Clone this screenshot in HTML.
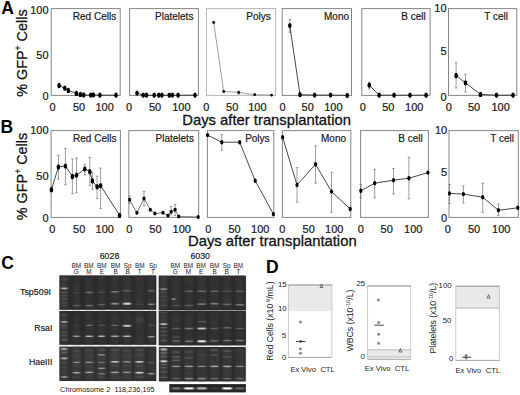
<!DOCTYPE html>
<html><head><meta charset="utf-8"><style>
html,body{margin:0;padding:0;background:#fff;width:520px;height:395px;overflow:hidden;}
svg{display:block;font-family:"Liberation Sans", sans-serif;}
</style></head><body>
<svg width="520" height="395" viewBox="0 0 520 395">
<defs><filter id="bl" x="-20%" y="-100%" width="140%" height="300%"><feGaussianBlur stdDeviation="1.1 0.7"/></filter><filter id="bl3" x="-30%" y="-100%" width="160%" height="300%"><feGaussianBlur stdDeviation="0.9"/></filter><filter id="bl2" x="-30%" y="-10%" width="160%" height="120%"><feGaussianBlur stdDeviation="1.2"/></filter></defs>
<rect width="520" height="395" fill="#fff"/>
<text x="1.2" y="14.2" font-size="17.5" text-anchor="start" font-weight="bold" fill="#000"  >A</text>
<text x="0.4" y="133.0" font-size="17.5" text-anchor="start" font-weight="bold" fill="#000"  >B</text>
<text x="1.2" y="268.8" font-size="17.5" text-anchor="start" font-weight="bold" fill="#000"  >C</text>
<text x="266.0" y="272.8" font-size="17.5" text-anchor="start" font-weight="bold" fill="#000"  >D</text>
<text transform="translate(26.5,53.1) rotate(-90)" font-size="14.4" text-anchor="middle" fill="#111" stroke="#111" stroke-width="0.25">% GFP<tspan font-size="8.64" dy="-5.472">+</tspan><tspan dy="5.472"> Cells</tspan></text>
<text transform="translate(26.9,176.5) rotate(-90)" font-size="14.4" text-anchor="middle" fill="#111" stroke="#111" stroke-width="0.25">% GFP<tspan font-size="8.64" dy="-5.472">+</tspan><tspan dy="5.472"> Cells</tspan></text>
<rect x="51.2" y="8.6" width="69.0" height="86.80000000000001" fill="none" stroke="#858585" stroke-width="1"/>
<text x="116.2" y="20.2" font-size="10" text-anchor="end" font-weight="normal" fill="#1a1a1a" stroke="#1a1a1a" stroke-width="0.2" >Red Cells</text>
<polyline points="59.1,85.5 64.8,88.2 68.3,90.4 76.4,93.4 80.4,94.4 83.7,95.0 90.7,95.2 93.4,94.9 99.9,95.2 116,95.2" fill="none" stroke="#333" stroke-width="0.9"/>
<ellipse cx="59.1" cy="85.5" rx="1.8" ry="2.7" fill="#000"/>
<ellipse cx="64.8" cy="88.2" rx="1.8" ry="2.7" fill="#000"/>
<ellipse cx="68.3" cy="90.4" rx="1.8" ry="2.7" fill="#000"/>
<ellipse cx="76.4" cy="93.4" rx="1.8" ry="2.7" fill="#000"/>
<ellipse cx="80.4" cy="94.4" rx="1.8" ry="2.7" fill="#000"/>
<ellipse cx="83.7" cy="95.0" rx="1.8" ry="2.7" fill="#000"/>
<ellipse cx="90.7" cy="95.2" rx="1.8" ry="2.7" fill="#000"/>
<ellipse cx="93.4" cy="94.9" rx="1.8" ry="2.7" fill="#000"/>
<ellipse cx="99.9" cy="95.2" rx="1.8" ry="2.7" fill="#000"/>
<ellipse cx="116" cy="95.2" rx="1.8" ry="2.7" fill="#000"/>
<rect x="129.6" y="8.6" width="68.80000000000001" height="86.80000000000001" fill="none" stroke="#858585" stroke-width="1"/>
<text x="193.4" y="20.2" font-size="10" text-anchor="end" font-weight="normal" fill="#1a1a1a" stroke="#1a1a1a" stroke-width="0.2" >Platelets</text>
<polyline points="137,93.1 143.2,95.2 146.5,95.2 154.2,95.2 158.8,95.2 161.9,95.2 169.3,95.2 172.4,95.2 178.1,95.2 195,95.2" fill="none" stroke="#333" stroke-width="0.9"/>
<ellipse cx="137" cy="93.1" rx="1.8" ry="2.7" fill="#000"/>
<ellipse cx="143.2" cy="95.2" rx="1.8" ry="2.7" fill="#000"/>
<ellipse cx="146.5" cy="95.2" rx="1.8" ry="2.7" fill="#000"/>
<ellipse cx="154.2" cy="95.2" rx="1.8" ry="2.7" fill="#000"/>
<ellipse cx="158.8" cy="95.2" rx="1.8" ry="2.7" fill="#000"/>
<ellipse cx="161.9" cy="95.2" rx="1.8" ry="2.7" fill="#000"/>
<ellipse cx="169.3" cy="95.2" rx="1.8" ry="2.7" fill="#000"/>
<ellipse cx="172.4" cy="95.2" rx="1.8" ry="2.7" fill="#000"/>
<ellipse cx="178.1" cy="95.2" rx="1.8" ry="2.7" fill="#000"/>
<ellipse cx="195" cy="95.2" rx="1.8" ry="2.7" fill="#000"/>
<rect x="206.4" y="8.6" width="69.20000000000002" height="86.80000000000001" fill="none" stroke="#b5b5b5" stroke-width="1"/>
<text x="270.7" y="20.2" font-size="10" text-anchor="end" font-weight="normal" fill="#1a1a1a" stroke="#1a1a1a" stroke-width="0.2" >Polys</text>
<line x1="238.7" y1="91" x2="238.7" y2="94" stroke="#757575" stroke-width="0.7" />
<line x1="237.39999999999998" y1="91" x2="240.0" y2="91" stroke="#757575" stroke-width="0.7" />
<line x1="237.39999999999998" y1="94" x2="240.0" y2="94" stroke="#757575" stroke-width="0.7" />
<polyline points="213.7,22.5 223.7,91.5 238.7,92.5 254.7,94.7 271.5,95.2" fill="none" stroke="#777" stroke-width="0.7"/>
<ellipse cx="213.7" cy="22.5" rx="1.4" ry="1.4" fill="#000"/>
<ellipse cx="223.7" cy="91.5" rx="1.4" ry="1.4" fill="#000"/>
<ellipse cx="238.7" cy="92.5" rx="1.4" ry="1.4" fill="#000"/>
<ellipse cx="254.7" cy="94.7" rx="1.4" ry="1.4" fill="#000"/>
<ellipse cx="271.5" cy="95.2" rx="1.4" ry="1.4" fill="#000"/>
<rect x="282.2" y="8.6" width="69.30000000000001" height="86.80000000000001" fill="none" stroke="#858585" stroke-width="1"/>
<text x="349" y="20.2" font-size="10" text-anchor="end" font-weight="normal" fill="#1a1a1a" stroke="#1a1a1a" stroke-width="0.2" >Mono</text>
<line x1="289.8" y1="19.6" x2="289.8" y2="32.3" stroke="#757575" stroke-width="0.7" />
<line x1="288.5" y1="19.6" x2="291.1" y2="19.6" stroke="#757575" stroke-width="0.7" />
<line x1="288.5" y1="32.3" x2="291.1" y2="32.3" stroke="#757575" stroke-width="0.7" />
<polyline points="289.8,25.5 300,94.7 314.6,95.1 330.6,95.1 347.2,95.4" fill="none" stroke="#333" stroke-width="0.9"/>
<ellipse cx="289.8" cy="25.5" rx="1.8" ry="2.6" fill="#000"/>
<ellipse cx="300" cy="94.7" rx="1.8" ry="2.6" fill="#000"/>
<ellipse cx="314.6" cy="95.1" rx="1.8" ry="2.6" fill="#000"/>
<ellipse cx="330.6" cy="95.1" rx="1.8" ry="2.6" fill="#000"/>
<ellipse cx="347.2" cy="95.4" rx="1.8" ry="2.6" fill="#000"/>
<rect x="361.8" y="8.6" width="68.30000000000001" height="86.80000000000001" fill="none" stroke="#858585" stroke-width="1"/>
<text x="425.8" y="20.2" font-size="10" text-anchor="end" font-weight="normal" fill="#1a1a1a" stroke="#1a1a1a" stroke-width="0.2" >B cell</text>
<line x1="369.3" y1="82" x2="369.3" y2="89" stroke="#757575" stroke-width="0.7" />
<line x1="368.0" y1="82" x2="370.6" y2="82" stroke="#757575" stroke-width="0.7" />
<line x1="368.0" y1="89" x2="370.6" y2="89" stroke="#757575" stroke-width="0.7" />
<polyline points="369.3,85.3 379.2,95.2 394.1,95.2 410,95.2 426.1,95.2" fill="none" stroke="#333" stroke-width="0.9"/>
<ellipse cx="369.3" cy="85.3" rx="1.8" ry="2.7" fill="#000"/>
<ellipse cx="379.2" cy="95.2" rx="1.8" ry="2.7" fill="#000"/>
<ellipse cx="394.1" cy="95.2" rx="1.8" ry="2.7" fill="#000"/>
<ellipse cx="410" cy="95.2" rx="1.8" ry="2.7" fill="#000"/>
<ellipse cx="426.1" cy="95.2" rx="1.8" ry="2.7" fill="#000"/>
<rect x="448.5" y="8.6" width="68.29999999999995" height="86.80000000000001" fill="none" stroke="#858585" stroke-width="1"/>
<text x="508" y="20.2" font-size="10" text-anchor="end" font-weight="normal" fill="#1a1a1a" stroke="#1a1a1a" stroke-width="0.2" >T cell</text>
<line x1="456.1" y1="62.7" x2="456.1" y2="87.9" stroke="#757575" stroke-width="0.7" />
<line x1="454.8" y1="62.7" x2="457.40000000000003" y2="62.7" stroke="#757575" stroke-width="0.7" />
<line x1="454.8" y1="87.9" x2="457.40000000000003" y2="87.9" stroke="#757575" stroke-width="0.7" />
<line x1="465.5" y1="74.2" x2="465.5" y2="92" stroke="#757575" stroke-width="0.7" />
<line x1="464.2" y1="74.2" x2="466.8" y2="74.2" stroke="#757575" stroke-width="0.7" />
<line x1="464.2" y1="92" x2="466.8" y2="92" stroke="#757575" stroke-width="0.7" />
<polyline points="456.1,75.5 465.5,82.9 480.5,94.4 496.5,95.2 513,95.2" fill="none" stroke="#333" stroke-width="0.9"/>
<ellipse cx="456.1" cy="75.5" rx="1.8" ry="2.7" fill="#000"/>
<ellipse cx="465.5" cy="82.9" rx="1.8" ry="2.7" fill="#000"/>
<ellipse cx="480.5" cy="94.4" rx="1.8" ry="2.7" fill="#000"/>
<ellipse cx="496.5" cy="95.2" rx="1.8" ry="2.7" fill="#000"/>
<ellipse cx="513" cy="95.2" rx="1.8" ry="2.7" fill="#000"/>
<text x="52.6" y="110.8" font-size="11" text-anchor="middle" font-weight="normal" fill="#1a1a1a" stroke="#1a1a1a" stroke-width="0.22" >0</text>
<text x="79.0" y="110.8" font-size="11" text-anchor="middle" font-weight="normal" fill="#1a1a1a" stroke="#1a1a1a" stroke-width="0.22" >50</text>
<text x="104.6" y="110.8" font-size="11" text-anchor="middle" font-weight="normal" fill="#1a1a1a" stroke="#1a1a1a" stroke-width="0.22" >100</text>
<text x="129.1" y="110.8" font-size="11" text-anchor="middle" font-weight="normal" fill="#1a1a1a" stroke="#1a1a1a" stroke-width="0.22" >0</text>
<text x="155.0" y="110.8" font-size="11" text-anchor="middle" font-weight="normal" fill="#1a1a1a" stroke="#1a1a1a" stroke-width="0.22" >50</text>
<text x="181.4" y="110.8" font-size="11" text-anchor="middle" font-weight="normal" fill="#1a1a1a" stroke="#1a1a1a" stroke-width="0.22" >100</text>
<text x="206.2" y="110.8" font-size="11" text-anchor="middle" font-weight="normal" fill="#1a1a1a" stroke="#1a1a1a" stroke-width="0.22" >0</text>
<text x="232.2" y="110.8" font-size="11" text-anchor="middle" font-weight="normal" fill="#1a1a1a" stroke="#1a1a1a" stroke-width="0.22" >50</text>
<text x="257.4" y="110.8" font-size="11" text-anchor="middle" font-weight="normal" fill="#1a1a1a" stroke="#1a1a1a" stroke-width="0.22" >100</text>
<text x="282.5" y="110.8" font-size="11" text-anchor="middle" font-weight="normal" fill="#1a1a1a" stroke="#1a1a1a" stroke-width="0.22" >0</text>
<text x="307.7" y="110.8" font-size="11" text-anchor="middle" font-weight="normal" fill="#1a1a1a" stroke="#1a1a1a" stroke-width="0.22" >50</text>
<text x="333.4" y="110.8" font-size="11" text-anchor="middle" font-weight="normal" fill="#1a1a1a" stroke="#1a1a1a" stroke-width="0.22" >100</text>
<text x="362.9" y="110.8" font-size="11" text-anchor="middle" font-weight="normal" fill="#1a1a1a" stroke="#1a1a1a" stroke-width="0.22" >0</text>
<text x="388.3" y="110.8" font-size="11" text-anchor="middle" font-weight="normal" fill="#1a1a1a" stroke="#1a1a1a" stroke-width="0.22" >50</text>
<text x="414.3" y="110.8" font-size="11" text-anchor="middle" font-weight="normal" fill="#1a1a1a" stroke="#1a1a1a" stroke-width="0.22" >100</text>
<text x="448.7" y="110.8" font-size="11" text-anchor="middle" font-weight="normal" fill="#1a1a1a" stroke="#1a1a1a" stroke-width="0.22" >0</text>
<text x="474.0" y="110.8" font-size="11" text-anchor="middle" font-weight="normal" fill="#1a1a1a" stroke="#1a1a1a" stroke-width="0.22" >50</text>
<text x="500.6" y="110.8" font-size="11" text-anchor="middle" font-weight="normal" fill="#1a1a1a" stroke="#1a1a1a" stroke-width="0.22" >100</text>
<text x="48.6" y="14.350000000000001" font-size="11" text-anchor="end" font-weight="normal" fill="#1a1a1a" stroke="#1a1a1a" stroke-width="0.22" >100</text>
<text x="48.6" y="58.95" font-size="11" text-anchor="end" font-weight="normal" fill="#1a1a1a" stroke="#1a1a1a" stroke-width="0.22" >50</text>
<text x="48.6" y="100.45" font-size="11" text-anchor="end" font-weight="normal" fill="#1a1a1a" stroke="#1a1a1a" stroke-width="0.22" >0</text>
<text x="446.6" y="12.350000000000001" font-size="11" text-anchor="end" font-weight="normal" fill="#1a1a1a" stroke="#1a1a1a" stroke-width="0.22" >10</text>
<text x="446.6" y="55.150000000000006" font-size="11" text-anchor="end" font-weight="normal" fill="#1a1a1a" stroke="#1a1a1a" stroke-width="0.22" >5</text>
<text x="446.6" y="100.95" font-size="11" text-anchor="end" font-weight="normal" fill="#1a1a1a" stroke="#1a1a1a" stroke-width="0.22" >0</text>
<text x="182.3" y="125.2" font-size="14.8" text-anchor="start" font-weight="normal" fill="#111" stroke="#111" stroke-width="0.296" >Days after transplantation</text>
<rect x="51.1" y="130.6" width="69.30000000000001" height="86.80000000000001" fill="none" stroke="#858585" stroke-width="1"/>
<text x="116.4" y="142.2" font-size="10" text-anchor="end" font-weight="normal" fill="#1a1a1a" stroke="#1a1a1a" stroke-width="0.2" >Red Cells</text>
<line x1="58.4" y1="155.2" x2="58.4" y2="179.2" stroke="#757575" stroke-width="0.7" />
<line x1="57.1" y1="155.2" x2="59.699999999999996" y2="155.2" stroke="#757575" stroke-width="0.7" />
<line x1="57.1" y1="179.2" x2="59.699999999999996" y2="179.2" stroke="#757575" stroke-width="0.7" />
<line x1="65.4" y1="148.4" x2="65.4" y2="184.8" stroke="#757575" stroke-width="0.7" />
<line x1="64.10000000000001" y1="148.4" x2="66.7" y2="148.4" stroke="#757575" stroke-width="0.7" />
<line x1="64.10000000000001" y1="184.8" x2="66.7" y2="184.8" stroke="#757575" stroke-width="0.7" />
<line x1="72.4" y1="159" x2="72.4" y2="193.5" stroke="#757575" stroke-width="0.7" />
<line x1="71.10000000000001" y1="159" x2="73.7" y2="159" stroke="#757575" stroke-width="0.7" />
<line x1="71.10000000000001" y1="193.5" x2="73.7" y2="193.5" stroke="#757575" stroke-width="0.7" />
<line x1="76.5" y1="157.9" x2="76.5" y2="192.9" stroke="#757575" stroke-width="0.7" />
<line x1="75.2" y1="157.9" x2="77.8" y2="157.9" stroke="#757575" stroke-width="0.7" />
<line x1="75.2" y1="192.9" x2="77.8" y2="192.9" stroke="#757575" stroke-width="0.7" />
<line x1="84.8" y1="164.3" x2="84.8" y2="175" stroke="#757575" stroke-width="0.7" />
<line x1="83.5" y1="164.3" x2="86.1" y2="164.3" stroke="#757575" stroke-width="0.7" />
<line x1="83.5" y1="175" x2="86.1" y2="175" stroke="#757575" stroke-width="0.7" />
<line x1="89.8" y1="157.5" x2="89.8" y2="185.3" stroke="#757575" stroke-width="0.7" />
<line x1="88.5" y1="157.5" x2="91.1" y2="157.5" stroke="#757575" stroke-width="0.7" />
<line x1="88.5" y1="185.3" x2="91.1" y2="185.3" stroke="#757575" stroke-width="0.7" />
<line x1="92.4" y1="172.7" x2="92.4" y2="189.4" stroke="#757575" stroke-width="0.7" />
<line x1="91.10000000000001" y1="172.7" x2="93.7" y2="172.7" stroke="#757575" stroke-width="0.7" />
<line x1="91.10000000000001" y1="189.4" x2="93.7" y2="189.4" stroke="#757575" stroke-width="0.7" />
<line x1="97.1" y1="176.2" x2="97.1" y2="198.5" stroke="#757575" stroke-width="0.7" />
<line x1="95.8" y1="176.2" x2="98.39999999999999" y2="176.2" stroke="#757575" stroke-width="0.7" />
<line x1="95.8" y1="198.5" x2="98.39999999999999" y2="198.5" stroke="#757575" stroke-width="0.7" />
<line x1="100.6" y1="168.1" x2="100.6" y2="208.5" stroke="#757575" stroke-width="0.7" />
<line x1="99.3" y1="168.1" x2="101.89999999999999" y2="168.1" stroke="#757575" stroke-width="0.7" />
<line x1="99.3" y1="208.5" x2="101.89999999999999" y2="208.5" stroke="#757575" stroke-width="0.7" />
<polyline points="51.4,189.8 58.4,167 65.4,166.1 72.4,176.5 76.5,175.3 84.8,168.9 89.8,171.6 92.4,181 97.1,186.8 100.6,185.6 119.6,215.4" fill="none" stroke="#333" stroke-width="0.9"/>
<ellipse cx="51.4" cy="189.8" rx="1.8" ry="2.7" fill="#000"/>
<ellipse cx="58.4" cy="167" rx="1.8" ry="2.7" fill="#000"/>
<ellipse cx="65.4" cy="166.1" rx="1.8" ry="2.7" fill="#000"/>
<ellipse cx="72.4" cy="176.5" rx="1.8" ry="2.7" fill="#000"/>
<ellipse cx="76.5" cy="175.3" rx="1.8" ry="2.7" fill="#000"/>
<ellipse cx="84.8" cy="168.9" rx="1.8" ry="2.7" fill="#000"/>
<ellipse cx="89.8" cy="171.6" rx="1.8" ry="2.7" fill="#000"/>
<ellipse cx="92.4" cy="181" rx="1.8" ry="2.7" fill="#000"/>
<ellipse cx="97.1" cy="186.8" rx="1.8" ry="2.7" fill="#000"/>
<ellipse cx="100.6" cy="185.6" rx="1.8" ry="2.7" fill="#000"/>
<ellipse cx="119.6" cy="215.4" rx="1.8" ry="2.7" fill="#000"/>
<rect x="128.8" y="130.6" width="69.89999999999998" height="86.80000000000001" fill="none" stroke="#858585" stroke-width="1"/>
<text x="193.9" y="142.2" font-size="10" text-anchor="end" font-weight="normal" fill="#1a1a1a" stroke="#1a1a1a" stroke-width="0.2" >Platelets</text>
<line x1="129.6" y1="195.9" x2="129.6" y2="203.5" stroke="#757575" stroke-width="0.7" />
<line x1="128.29999999999998" y1="195.9" x2="130.9" y2="195.9" stroke="#757575" stroke-width="0.7" />
<line x1="128.29999999999998" y1="203.5" x2="130.9" y2="203.5" stroke="#757575" stroke-width="0.7" />
<line x1="144" y1="191.3" x2="144" y2="206" stroke="#757575" stroke-width="0.7" />
<line x1="142.7" y1="191.3" x2="145.3" y2="191.3" stroke="#757575" stroke-width="0.7" />
<line x1="142.7" y1="206" x2="145.3" y2="206" stroke="#757575" stroke-width="0.7" />
<line x1="171.1" y1="206.5" x2="171.1" y2="214.9" stroke="#757575" stroke-width="0.7" />
<line x1="169.79999999999998" y1="206.5" x2="172.4" y2="206.5" stroke="#757575" stroke-width="0.7" />
<line x1="169.79999999999998" y1="214.9" x2="172.4" y2="214.9" stroke="#757575" stroke-width="0.7" />
<line x1="175.1" y1="204.7" x2="175.1" y2="215.6" stroke="#757575" stroke-width="0.7" />
<line x1="173.79999999999998" y1="204.7" x2="176.4" y2="204.7" stroke="#757575" stroke-width="0.7" />
<line x1="173.79999999999998" y1="215.6" x2="176.4" y2="215.6" stroke="#757575" stroke-width="0.7" />
<polyline points="129.6,199.7 136.9,212.8 144,198.4 150.3,209.8 154.9,213.6 163,212.8 168,215.6 171.1,211.8 175.1,209.8 178.7,216.6 198.2,217.0" fill="none" stroke="#4a4a4a" stroke-width="0.75"/>
<ellipse cx="129.6" cy="199.7" rx="1.6" ry="2.0" fill="#000"/>
<ellipse cx="136.9" cy="212.8" rx="1.6" ry="2.0" fill="#000"/>
<ellipse cx="144" cy="198.4" rx="1.6" ry="2.0" fill="#000"/>
<ellipse cx="150.3" cy="209.8" rx="1.6" ry="2.0" fill="#000"/>
<ellipse cx="154.9" cy="213.6" rx="1.6" ry="2.0" fill="#000"/>
<ellipse cx="163" cy="212.8" rx="1.6" ry="2.0" fill="#000"/>
<ellipse cx="168" cy="215.6" rx="1.6" ry="2.0" fill="#000"/>
<ellipse cx="171.1" cy="211.8" rx="1.6" ry="2.0" fill="#000"/>
<ellipse cx="175.1" cy="209.8" rx="1.6" ry="2.0" fill="#000"/>
<ellipse cx="178.7" cy="216.6" rx="1.6" ry="2.0" fill="#000"/>
<ellipse cx="198.2" cy="217.0" rx="1.6" ry="2.0" fill="#000"/>
<rect x="207.4" y="130.6" width="66.4" height="86.80000000000001" fill="none" stroke="#858585" stroke-width="1"/>
<text x="269.6" y="142.2" font-size="10" text-anchor="end" font-weight="normal" fill="#1a1a1a" stroke="#1a1a1a" stroke-width="0.2" >Polys</text>
<line x1="221.8" y1="134.6" x2="221.8" y2="150.3" stroke="#757575" stroke-width="0.7" />
<line x1="220.5" y1="134.6" x2="223.10000000000002" y2="134.6" stroke="#757575" stroke-width="0.7" />
<line x1="220.5" y1="150.3" x2="223.10000000000002" y2="150.3" stroke="#757575" stroke-width="0.7" />
<polyline points="207.6,135.1 221.8,142.2 239.7,142.2 255.2,180.7 273.4,214.1" fill="none" stroke="#333" stroke-width="0.9"/>
<ellipse cx="207.6" cy="135.1" rx="1.6" ry="2.2" fill="#000"/>
<ellipse cx="221.8" cy="142.2" rx="1.6" ry="2.2" fill="#000"/>
<ellipse cx="239.7" cy="142.2" rx="1.6" ry="2.2" fill="#000"/>
<ellipse cx="255.2" cy="180.7" rx="1.6" ry="2.2" fill="#000"/>
<ellipse cx="273.4" cy="214.1" rx="1.6" ry="2.2" fill="#000"/>
<rect x="282.4" y="130.6" width="68.40000000000003" height="86.80000000000001" fill="none" stroke="#858585" stroke-width="1"/>
<text x="346" y="142.2" font-size="10" text-anchor="end" font-weight="normal" fill="#1a1a1a" stroke="#1a1a1a" stroke-width="0.2" >Mono</text>
<line x1="297" y1="167.5" x2="297" y2="202.2" stroke="#757575" stroke-width="0.7" />
<line x1="295.7" y1="167.5" x2="298.3" y2="167.5" stroke="#757575" stroke-width="0.7" />
<line x1="295.7" y1="202.2" x2="298.3" y2="202.2" stroke="#757575" stroke-width="0.7" />
<line x1="315.5" y1="145.8" x2="315.5" y2="183.2" stroke="#757575" stroke-width="0.7" />
<line x1="314.2" y1="145.8" x2="316.8" y2="145.8" stroke="#757575" stroke-width="0.7" />
<line x1="314.2" y1="183.2" x2="316.8" y2="183.2" stroke="#757575" stroke-width="0.7" />
<line x1="331.5" y1="172.3" x2="331.5" y2="212.3" stroke="#757575" stroke-width="0.7" />
<line x1="330.2" y1="172.3" x2="332.8" y2="172.3" stroke="#757575" stroke-width="0.7" />
<line x1="330.2" y1="212.3" x2="332.8" y2="212.3" stroke="#757575" stroke-width="0.7" />
<polyline points="282.6,137.2 297,185 315.5,164.2 331.5,191.6 350.2,209" fill="none" stroke="#333" stroke-width="0.9"/>
<ellipse cx="282.6" cy="137.2" rx="1.6" ry="2.2" fill="#000"/>
<ellipse cx="297" cy="185" rx="1.6" ry="2.2" fill="#000"/>
<ellipse cx="315.5" cy="164.2" rx="1.6" ry="2.2" fill="#000"/>
<ellipse cx="331.5" cy="191.6" rx="1.6" ry="2.2" fill="#000"/>
<ellipse cx="350.2" cy="209" rx="1.6" ry="2.2" fill="#000"/>
<rect x="360.6" y="130.6" width="67.79999999999995" height="86.80000000000001" fill="none" stroke="#858585" stroke-width="1"/>
<text x="422.8" y="142.2" font-size="10" text-anchor="end" font-weight="normal" fill="#1a1a1a" stroke="#1a1a1a" stroke-width="0.2" >B cell</text>
<line x1="360.8" y1="184.5" x2="360.8" y2="197.7" stroke="#757575" stroke-width="0.7" />
<line x1="359.5" y1="184.5" x2="362.1" y2="184.5" stroke="#757575" stroke-width="0.7" />
<line x1="359.5" y1="197.7" x2="362.1" y2="197.7" stroke="#757575" stroke-width="0.7" />
<line x1="374.7" y1="169.3" x2="374.7" y2="197.7" stroke="#757575" stroke-width="0.7" />
<line x1="373.4" y1="169.3" x2="376.0" y2="169.3" stroke="#757575" stroke-width="0.7" />
<line x1="373.4" y1="197.7" x2="376.0" y2="197.7" stroke="#757575" stroke-width="0.7" />
<line x1="393.5" y1="168.5" x2="393.5" y2="193.9" stroke="#757575" stroke-width="0.7" />
<line x1="392.2" y1="168.5" x2="394.8" y2="168.5" stroke="#757575" stroke-width="0.7" />
<line x1="392.2" y1="193.9" x2="394.8" y2="193.9" stroke="#757575" stroke-width="0.7" />
<line x1="408.9" y1="157.4" x2="408.9" y2="198.9" stroke="#757575" stroke-width="0.7" />
<line x1="407.59999999999997" y1="157.4" x2="410.2" y2="157.4" stroke="#757575" stroke-width="0.7" />
<line x1="407.59999999999997" y1="198.9" x2="410.2" y2="198.9" stroke="#757575" stroke-width="0.7" />
<polyline points="360.8,190.8 374.7,183.2 393.5,180.2 408.9,178.2 427.9,172.6" fill="none" stroke="#333" stroke-width="0.9"/>
<ellipse cx="360.8" cy="190.8" rx="1.6" ry="2.2" fill="#000"/>
<ellipse cx="374.7" cy="183.2" rx="1.6" ry="2.2" fill="#000"/>
<ellipse cx="393.5" cy="180.2" rx="1.6" ry="2.2" fill="#000"/>
<ellipse cx="408.9" cy="178.2" rx="1.6" ry="2.2" fill="#000"/>
<ellipse cx="427.9" cy="172.6" rx="1.6" ry="2.2" fill="#000"/>
<rect x="449" y="130.6" width="69.29999999999995" height="86.80000000000001" fill="none" stroke="#858585" stroke-width="1"/>
<text x="514" y="142.2" font-size="10" text-anchor="end" font-weight="normal" fill="#1a1a1a" stroke="#1a1a1a" stroke-width="0.2" >T cell</text>
<line x1="449.5" y1="184.5" x2="449.5" y2="203.5" stroke="#757575" stroke-width="0.7" />
<line x1="448.2" y1="184.5" x2="450.8" y2="184.5" stroke="#757575" stroke-width="0.7" />
<line x1="448.2" y1="203.5" x2="450.8" y2="203.5" stroke="#757575" stroke-width="0.7" />
<line x1="463.4" y1="185.8" x2="463.4" y2="203" stroke="#757575" stroke-width="0.7" />
<line x1="462.09999999999997" y1="185.8" x2="464.7" y2="185.8" stroke="#757575" stroke-width="0.7" />
<line x1="462.09999999999997" y1="203" x2="464.7" y2="203" stroke="#757575" stroke-width="0.7" />
<line x1="482.7" y1="183.2" x2="482.7" y2="212.3" stroke="#757575" stroke-width="0.7" />
<line x1="481.4" y1="183.2" x2="484.0" y2="183.2" stroke="#757575" stroke-width="0.7" />
<line x1="481.4" y1="212.3" x2="484.0" y2="212.3" stroke="#757575" stroke-width="0.7" />
<line x1="498.4" y1="204" x2="498.4" y2="215.6" stroke="#757575" stroke-width="0.7" />
<line x1="497.09999999999997" y1="204" x2="499.7" y2="204" stroke="#757575" stroke-width="0.7" />
<line x1="497.09999999999997" y1="215.6" x2="499.7" y2="215.6" stroke="#757575" stroke-width="0.7" />
<polyline points="449.5,193.4 463.4,194.1 482.7,197.2 498.4,210.3 517.8,207.8" fill="none" stroke="#333" stroke-width="0.9"/>
<ellipse cx="449.5" cy="193.4" rx="1.6" ry="2.2" fill="#000"/>
<ellipse cx="463.4" cy="194.1" rx="1.6" ry="2.2" fill="#000"/>
<ellipse cx="482.7" cy="197.2" rx="1.6" ry="2.2" fill="#000"/>
<ellipse cx="498.4" cy="210.3" rx="1.6" ry="2.2" fill="#000"/>
<ellipse cx="517.8" cy="207.8" rx="1.6" ry="2.2" fill="#000"/>
<text x="52.3" y="233.4" font-size="11" text-anchor="middle" font-weight="normal" fill="#1a1a1a" stroke="#1a1a1a" stroke-width="0.22" >0</text>
<text x="79.2" y="233.4" font-size="11" text-anchor="middle" font-weight="normal" fill="#1a1a1a" stroke="#1a1a1a" stroke-width="0.22" >50</text>
<text x="104.8" y="233.4" font-size="11" text-anchor="middle" font-weight="normal" fill="#1a1a1a" stroke="#1a1a1a" stroke-width="0.22" >100</text>
<text x="129.2" y="233.4" font-size="11" text-anchor="middle" font-weight="normal" fill="#1a1a1a" stroke="#1a1a1a" stroke-width="0.22" >0</text>
<text x="155.4" y="233.4" font-size="11" text-anchor="middle" font-weight="normal" fill="#1a1a1a" stroke="#1a1a1a" stroke-width="0.22" >50</text>
<text x="181.8" y="233.4" font-size="11" text-anchor="middle" font-weight="normal" fill="#1a1a1a" stroke="#1a1a1a" stroke-width="0.22" >100</text>
<text x="208.3" y="233.4" font-size="11" text-anchor="middle" font-weight="normal" fill="#1a1a1a" stroke="#1a1a1a" stroke-width="0.22" >0</text>
<text x="234.6" y="233.4" font-size="11" text-anchor="middle" font-weight="normal" fill="#1a1a1a" stroke="#1a1a1a" stroke-width="0.22" >50</text>
<text x="260.2" y="233.4" font-size="11" text-anchor="middle" font-weight="normal" fill="#1a1a1a" stroke="#1a1a1a" stroke-width="0.22" >100</text>
<text x="282.3" y="233.4" font-size="11" text-anchor="middle" font-weight="normal" fill="#1a1a1a" stroke="#1a1a1a" stroke-width="0.22" >0</text>
<text x="308.7" y="233.4" font-size="11" text-anchor="middle" font-weight="normal" fill="#1a1a1a" stroke="#1a1a1a" stroke-width="0.22" >50</text>
<text x="334.3" y="233.4" font-size="11" text-anchor="middle" font-weight="normal" fill="#1a1a1a" stroke="#1a1a1a" stroke-width="0.22" >100</text>
<text x="360.7" y="233.4" font-size="11" text-anchor="middle" font-weight="normal" fill="#1a1a1a" stroke="#1a1a1a" stroke-width="0.22" >0</text>
<text x="386.7" y="233.4" font-size="11" text-anchor="middle" font-weight="normal" fill="#1a1a1a" stroke="#1a1a1a" stroke-width="0.22" >50</text>
<text x="413.3" y="233.4" font-size="11" text-anchor="middle" font-weight="normal" fill="#1a1a1a" stroke="#1a1a1a" stroke-width="0.22" >100</text>
<text x="447.7" y="233.4" font-size="11" text-anchor="middle" font-weight="normal" fill="#1a1a1a" stroke="#1a1a1a" stroke-width="0.22" >0</text>
<text x="474.0" y="233.4" font-size="11" text-anchor="middle" font-weight="normal" fill="#1a1a1a" stroke="#1a1a1a" stroke-width="0.22" >50</text>
<text x="501.3" y="233.4" font-size="11" text-anchor="middle" font-weight="normal" fill="#1a1a1a" stroke="#1a1a1a" stroke-width="0.22" >100</text>
<text x="48.6" y="134.35" font-size="11" text-anchor="end" font-weight="normal" fill="#1a1a1a" stroke="#1a1a1a" stroke-width="0.22" >100</text>
<text x="48.6" y="179.64999999999998" font-size="11" text-anchor="end" font-weight="normal" fill="#1a1a1a" stroke="#1a1a1a" stroke-width="0.22" >50</text>
<text x="48.6" y="221.75" font-size="11" text-anchor="end" font-weight="normal" fill="#1a1a1a" stroke="#1a1a1a" stroke-width="0.22" >0</text>
<text x="447.2" y="134.04999999999998" font-size="11" text-anchor="end" font-weight="normal" fill="#1a1a1a" stroke="#1a1a1a" stroke-width="0.22" >10</text>
<text x="447.2" y="175.75" font-size="11" text-anchor="end" font-weight="normal" fill="#1a1a1a" stroke="#1a1a1a" stroke-width="0.22" >5</text>
<text x="447.2" y="221.75" font-size="11" text-anchor="end" font-weight="normal" fill="#1a1a1a" stroke="#1a1a1a" stroke-width="0.22" >0</text>
<text x="188.0" y="245.6" font-size="14.8" text-anchor="start" font-weight="normal" fill="#111" stroke="#111" stroke-width="0.296" >Days after transplantation</text>
<text x="20.0" y="295.0" font-size="8.9" text-anchor="start" font-weight="normal" fill="#1a1a1a" stroke="#1a1a1a" stroke-width="0.178" >Tsp509I</text>
<text x="52.4" y="331.0" font-size="8.8" text-anchor="end" font-weight="normal" fill="#1a1a1a" stroke="#1a1a1a" stroke-width="0.176" >RsaI</text>
<text x="52.4" y="364.8" font-size="8.8" text-anchor="end" font-weight="normal" fill="#1a1a1a" stroke="#1a1a1a" stroke-width="0.176" >HaeIII</text>
<text x="109.5" y="258.8" font-size="8.8" text-anchor="middle" font-weight="normal" fill="#1a1a1a" stroke="#1a1a1a" stroke-width="0.176" >6028</text>
<text x="200.2" y="258.8" font-size="8.8" text-anchor="middle" font-weight="normal" fill="#1a1a1a" stroke="#1a1a1a" stroke-width="0.176" >6030</text>
<text x="76.2" y="268.0" font-size="6.4" text-anchor="middle" font-weight="normal" fill="#222"  >BM</text>
<text x="76.2" y="273.6" font-size="6.4" text-anchor="middle" font-weight="normal" fill="#222"  >G</text>
<text x="88.9" y="268.0" font-size="6.4" text-anchor="middle" font-weight="normal" fill="#222"  >BM</text>
<text x="88.9" y="273.6" font-size="6.4" text-anchor="middle" font-weight="normal" fill="#222"  >M</text>
<text x="101.9" y="268.0" font-size="6.4" text-anchor="middle" font-weight="normal" fill="#222"  >BM</text>
<text x="101.9" y="273.6" font-size="6.4" text-anchor="middle" font-weight="normal" fill="#222"  >E</text>
<text x="115.6" y="268.0" font-size="6.4" text-anchor="middle" font-weight="normal" fill="#222"  >BM</text>
<text x="115.6" y="273.6" font-size="6.4" text-anchor="middle" font-weight="normal" fill="#222"  >B</text>
<text x="127.7" y="268.0" font-size="6.4" text-anchor="middle" font-weight="normal" fill="#222"  >Sp</text>
<text x="127.7" y="273.6" font-size="6.4" text-anchor="middle" font-weight="normal" fill="#222"  >B</text>
<text x="139.8" y="268.0" font-size="6.4" text-anchor="middle" font-weight="normal" fill="#222"  >BM</text>
<text x="139.8" y="273.6" font-size="6.4" text-anchor="middle" font-weight="normal" fill="#222"  >T</text>
<text x="153" y="268.0" font-size="6.4" text-anchor="middle" font-weight="normal" fill="#222"  >Sp</text>
<text x="153" y="273.6" font-size="6.4" text-anchor="middle" font-weight="normal" fill="#222"  >T</text>
<text x="175.2" y="268.0" font-size="6.4" text-anchor="middle" font-weight="normal" fill="#222"  >BM</text>
<text x="175.2" y="273.6" font-size="6.4" text-anchor="middle" font-weight="normal" fill="#222"  >G</text>
<text x="188.3" y="268.0" font-size="6.4" text-anchor="middle" font-weight="normal" fill="#222"  >BM</text>
<text x="188.3" y="273.6" font-size="6.4" text-anchor="middle" font-weight="normal" fill="#222"  >M</text>
<text x="201.1" y="268.0" font-size="6.4" text-anchor="middle" font-weight="normal" fill="#222"  >BM</text>
<text x="201.1" y="273.6" font-size="6.4" text-anchor="middle" font-weight="normal" fill="#222"  >E</text>
<text x="214.6" y="268.0" font-size="6.4" text-anchor="middle" font-weight="normal" fill="#222"  >BM</text>
<text x="214.6" y="273.6" font-size="6.4" text-anchor="middle" font-weight="normal" fill="#222"  >B</text>
<text x="226.7" y="268.0" font-size="6.4" text-anchor="middle" font-weight="normal" fill="#222"  >Sp</text>
<text x="226.7" y="273.6" font-size="6.4" text-anchor="middle" font-weight="normal" fill="#222"  >B</text>
<text x="238.4" y="268.0" font-size="6.4" text-anchor="middle" font-weight="normal" fill="#222"  >BM</text>
<text x="238.4" y="273.6" font-size="6.4" text-anchor="middle" font-weight="normal" fill="#222"  >T</text>
<text x="60.1" y="392.3" font-size="7.35" text-anchor="start" font-weight="normal" fill="#1a1a1a"  >Chromosome 2&#160;&#160;118,236,195</text>
<rect x="59.4" y="275.4" width="96.79999999999998" height="34.400000000000034" fill="#292929" />
<rect x="60.7" y="276.4" width="7.0" height="32.400000000000034" fill="#3a3a3a" filter="url(#bl2)"/>
<rect x="61.2" y="278.52" width="6.0" height="0.96" fill="#4f4f4f" filter="url(#bl)"/>
<rect x="61.2" y="287.59999999999997" width="6.0" height="1.6" fill="#b8b8b8" filter="url(#bl)"/>
<rect x="61.2" y="291.91999999999996" width="6.0" height="0.96" fill="#656565" filter="url(#bl)"/>
<rect x="61.2" y="295.32" width="6.0" height="0.96" fill="#5a5a5a" filter="url(#bl)"/>
<rect x="61.2" y="298.21999999999997" width="6.0" height="0.96" fill="#5a5a5a" filter="url(#bl)"/>
<rect x="61.2" y="302.21999999999997" width="6.0" height="0.96" fill="#4f4f4f" filter="url(#bl)"/>
<rect x="61.2" y="305.21999999999997" width="6.0" height="0.96" fill="#4f4f4f" filter="url(#bl)"/>
<rect x="72.0" y="276.4" width="9.0" height="32.400000000000034" fill="#303030" filter="url(#bl2)"/>
<rect x="73.5" y="278.0476655296663" width="6.0" height="1.2" fill="#323232" filter="url(#bl3)"/>
<rect x="73.5" y="281.7321360189358" width="6.0" height="1.2" fill="#303030" filter="url(#bl3)"/>
<rect x="73.5" y="284.44944487893844" width="6.0" height="1.2" fill="#383838" filter="url(#bl3)"/>
<rect x="73.5" y="287.2318350047575" width="6.0" height="1.2" fill="#393939" filter="url(#bl3)"/>
<rect x="73.5" y="289.9058317790816" width="6.0" height="1.2" fill="#383838" filter="url(#bl3)"/>
<rect x="73.5" y="293.0499263215886" width="6.0" height="1.2" fill="#313131" filter="url(#bl3)"/>
<rect x="73.5" y="296.85086337257576" width="6.0" height="1.2" fill="#313131" filter="url(#bl3)"/>
<rect x="73.5" y="300.07285237295685" width="6.0" height="1.2" fill="#383838" filter="url(#bl3)"/>
<rect x="73.5" y="303.8464099403844" width="6.0" height="1.2" fill="#3d3d3d" filter="url(#bl3)"/>
<rect x="73.3" y="292.12" width="6.4" height="1.36" fill="#464646" filter="url(#bl)"/>
<rect x="73.3" y="304.85200000000003" width="6.4" height="1.4960000000000002" fill="#606060" filter="url(#bl)"/>
<rect x="84.5" y="276.4" width="9.5" height="32.400000000000034" fill="#303030" filter="url(#bl2)"/>
<rect x="86" y="279.29489940141497" width="6.5" height="1.2" fill="#3a3a3a" filter="url(#bl3)"/>
<rect x="86" y="283.67719906863175" width="6.5" height="1.2" fill="#303030" filter="url(#bl3)"/>
<rect x="86" y="287.90850791448423" width="6.5" height="1.2" fill="#363636" filter="url(#bl3)"/>
<rect x="86" y="290.55727585465354" width="6.5" height="1.2" fill="#333333" filter="url(#bl3)"/>
<rect x="86" y="293.19702389650683" width="6.5" height="1.2" fill="#3d3d3d" filter="url(#bl3)"/>
<rect x="86" y="296.09654834583165" width="6.5" height="1.2" fill="#363636" filter="url(#bl3)"/>
<rect x="86" y="299.02931359590394" width="6.5" height="1.2" fill="#313131" filter="url(#bl3)"/>
<rect x="86" y="303.24205466484415" width="6.5" height="1.2" fill="#383838" filter="url(#bl3)"/>
<rect x="85.8" y="291.71999999999997" width="6.9" height="1.36" fill="#727272" filter="url(#bl)"/>
<rect x="85.8" y="304.85200000000003" width="6.9" height="1.4960000000000002" fill="#727272" filter="url(#bl)"/>
<rect x="97.0" y="276.4" width="9.0" height="32.400000000000034" fill="#303030" filter="url(#bl2)"/>
<rect x="98.5" y="277.7614527598478" width="6.0" height="1.2" fill="#393939" filter="url(#bl3)"/>
<rect x="98.5" y="281.9750659340832" width="6.0" height="1.2" fill="#333333" filter="url(#bl3)"/>
<rect x="98.5" y="285.5922585622604" width="6.0" height="1.2" fill="#383838" filter="url(#bl3)"/>
<rect x="98.5" y="290.22859085949887" width="6.0" height="1.2" fill="#393939" filter="url(#bl3)"/>
<rect x="98.5" y="292.90739436939754" width="6.0" height="1.2" fill="#333333" filter="url(#bl3)"/>
<rect x="98.5" y="296.896637854738" width="6.0" height="1.2" fill="#383838" filter="url(#bl3)"/>
<rect x="98.5" y="300.6794147717462" width="6.0" height="1.2" fill="#353535" filter="url(#bl3)"/>
<rect x="98.5" y="304.57622036926523" width="6.0" height="1.2" fill="#3e3e3e" filter="url(#bl3)"/>
<rect x="98.3" y="291.71999999999997" width="6.4" height="1.36" fill="#505050" filter="url(#bl)"/>
<rect x="98.3" y="303.952" width="6.4" height="1.4960000000000002" fill="#636363" filter="url(#bl)"/>
<rect x="110.0" y="276.4" width="10.0" height="32.400000000000034" fill="#303030" filter="url(#bl2)"/>
<rect x="111.5" y="277.99953399372737" width="7.0" height="1.2" fill="#3c3c3c" filter="url(#bl3)"/>
<rect x="111.5" y="281.0388342424768" width="7.0" height="1.2" fill="#3c3c3c" filter="url(#bl3)"/>
<rect x="111.5" y="284.2711237746433" width="7.0" height="1.2" fill="#393939" filter="url(#bl3)"/>
<rect x="111.5" y="287.6718711302802" width="7.0" height="1.2" fill="#373737" filter="url(#bl3)"/>
<rect x="111.5" y="292.79728361700046" width="7.0" height="1.2" fill="#3b3b3b" filter="url(#bl3)"/>
<rect x="111.5" y="296.64378618828385" width="7.0" height="1.2" fill="#393939" filter="url(#bl3)"/>
<rect x="111.5" y="302.0843107307616" width="7.0" height="1.2" fill="#313131" filter="url(#bl3)"/>
<rect x="111.5" y="306.1201092227043" width="7.0" height="1.2" fill="#323232" filter="url(#bl3)"/>
<rect x="111.3" y="291.188" width="7.4" height="1.2240000000000002" fill="#8d8d8d" filter="url(#bl)"/>
<rect x="111.3" y="302.816" width="7.4" height="1.7680000000000002" fill="#949494" filter="url(#bl)"/>
<rect x="122.0" y="276.4" width="10.0" height="32.400000000000034" fill="#303030" filter="url(#bl2)"/>
<rect x="123.5" y="277.703969069321" width="7.0" height="1.2" fill="#373737" filter="url(#bl3)"/>
<rect x="123.5" y="281.4690641327512" width="7.0" height="1.2" fill="#3a3a3a" filter="url(#bl3)"/>
<rect x="123.5" y="284.20192557929363" width="7.0" height="1.2" fill="#383838" filter="url(#bl3)"/>
<rect x="123.5" y="288.42100340012576" width="7.0" height="1.2" fill="#3e3e3e" filter="url(#bl3)"/>
<rect x="123.5" y="293.37606342722773" width="7.0" height="1.2" fill="#353535" filter="url(#bl3)"/>
<rect x="123.5" y="297.9619495260487" width="7.0" height="1.2" fill="#393939" filter="url(#bl3)"/>
<rect x="123.5" y="301.9519739119457" width="7.0" height="1.2" fill="#3c3c3c" filter="url(#bl3)"/>
<rect x="123.5" y="305.82058990584994" width="7.0" height="1.2" fill="#3d3d3d" filter="url(#bl3)"/>
<rect x="123.3" y="289.98400000000004" width="7.4" height="1.6320000000000001" fill="#606060" filter="url(#bl)"/>
<rect x="123.3" y="302.68" width="7.4" height="2.04" fill="#dcdcdc" filter="url(#bl)"/>
<rect x="134.5" y="276.4" width="10" height="32.400000000000034" fill="#303030" filter="url(#bl2)"/>
<rect x="136" y="277.9398785542562" width="7" height="1.2" fill="#3b3b3b" filter="url(#bl3)"/>
<rect x="136" y="282.43233517068023" width="7" height="1.2" fill="#303030" filter="url(#bl3)"/>
<rect x="136" y="287.1258131746029" width="7" height="1.2" fill="#343434" filter="url(#bl3)"/>
<rect x="136" y="291.56719973818593" width="7" height="1.2" fill="#3a3a3a" filter="url(#bl3)"/>
<rect x="136" y="296.5329740980151" width="7" height="1.2" fill="#343434" filter="url(#bl3)"/>
<rect x="136" y="301.18285748120996" width="7" height="1.2" fill="#3e3e3e" filter="url(#bl3)"/>
<rect x="136" y="305.6888156288625" width="7" height="1.2" fill="#303030" filter="url(#bl3)"/>
<rect x="135.8" y="303.62" width="7.4" height="1.36" fill="#464646" filter="url(#bl)"/>
<rect x="147.0" y="276.4" width="8.5" height="32.400000000000034" fill="#303030" filter="url(#bl2)"/>
<rect x="148.5" y="278.1109282190807" width="5.5" height="1.2" fill="#393939" filter="url(#bl3)"/>
<rect x="148.5" y="280.9622156025259" width="5.5" height="1.2" fill="#303030" filter="url(#bl3)"/>
<rect x="148.5" y="284.1168389269849" width="5.5" height="1.2" fill="#343434" filter="url(#bl3)"/>
<rect x="148.5" y="287.0048595930409" width="5.5" height="1.2" fill="#333333" filter="url(#bl3)"/>
<rect x="148.5" y="290.69855262867964" width="5.5" height="1.2" fill="#3e3e3e" filter="url(#bl3)"/>
<rect x="148.5" y="295.8128185510585" width="5.5" height="1.2" fill="#313131" filter="url(#bl3)"/>
<rect x="148.5" y="298.8119173984743" width="5.5" height="1.2" fill="#363636" filter="url(#bl3)"/>
<rect x="148.5" y="302.9602371259064" width="5.5" height="1.2" fill="#3e3e3e" filter="url(#bl3)"/>
<rect x="148.5" y="305.8710155549515" width="5.5" height="1.2" fill="#363636" filter="url(#bl3)"/>
<rect x="148.3" y="290.12" width="5.9" height="1.36" fill="#6f6f6f" filter="url(#bl)"/>
<rect x="148.3" y="303.552" width="5.9" height="1.4960000000000002" fill="#8d8d8d" filter="url(#bl)"/>
<rect x="59.4" y="311.0" width="96.79999999999998" height="33.80000000000001" fill="#292929" />
<rect x="60.7" y="312.0" width="7.0" height="31.80000000000001" fill="#3a3a3a" filter="url(#bl2)"/>
<rect x="61.2" y="314.41999999999996" width="6.0" height="0.96" fill="#4f4f4f" filter="url(#bl)"/>
<rect x="61.2" y="321.09999999999997" width="6.0" height="1.6" fill="#aeaeae" filter="url(#bl)"/>
<rect x="61.2" y="324.91999999999996" width="6.0" height="0.96" fill="#656565" filter="url(#bl)"/>
<rect x="61.2" y="327.32" width="6.0" height="0.96" fill="#5a5a5a" filter="url(#bl)"/>
<rect x="61.2" y="332.32" width="6.0" height="0.96" fill="#5a5a5a" filter="url(#bl)"/>
<rect x="61.2" y="335.21999999999997" width="6.0" height="0.96" fill="#4f4f4f" filter="url(#bl)"/>
<rect x="61.2" y="339.14" width="6.0" height="1.1199999999999999" fill="#656565" filter="url(#bl)"/>
<rect x="72.0" y="312.0" width="9.0" height="31.80000000000001" fill="#303030" filter="url(#bl2)"/>
<rect x="73.5" y="313.5568421290278" width="6.0" height="1.2" fill="#363636" filter="url(#bl3)"/>
<rect x="73.5" y="319.0162433720314" width="6.0" height="1.2" fill="#3a3a3a" filter="url(#bl3)"/>
<rect x="73.5" y="324.16882185362607" width="6.0" height="1.2" fill="#333333" filter="url(#bl3)"/>
<rect x="73.5" y="327.1215845709994" width="6.0" height="1.2" fill="#323232" filter="url(#bl3)"/>
<rect x="73.5" y="330.0754797203486" width="6.0" height="1.2" fill="#3a3a3a" filter="url(#bl3)"/>
<rect x="73.5" y="333.27548797139116" width="6.0" height="1.2" fill="#373737" filter="url(#bl3)"/>
<rect x="73.5" y="338.26876865609603" width="6.0" height="1.2" fill="#323232" filter="url(#bl3)"/>
<rect x="73.5" y="341.55700851399166" width="6.0" height="1.2" fill="#303030" filter="url(#bl3)"/>
<rect x="73.3" y="324.71999999999997" width="6.4" height="1.36" fill="#464646" filter="url(#bl)"/>
<rect x="73.3" y="335.552" width="6.4" height="1.4960000000000002" fill="#9d9d9d" filter="url(#bl)"/>
<rect x="84.5" y="312.0" width="9.5" height="31.80000000000001" fill="#303030" filter="url(#bl2)"/>
<rect x="86" y="314.06918192460023" width="6.5" height="1.2" fill="#393939" filter="url(#bl3)"/>
<rect x="86" y="318.2682055957194" width="6.5" height="1.2" fill="#323232" filter="url(#bl3)"/>
<rect x="86" y="322.83968656712733" width="6.5" height="1.2" fill="#383838" filter="url(#bl3)"/>
<rect x="86" y="328.1903584161753" width="6.5" height="1.2" fill="#3a3a3a" filter="url(#bl3)"/>
<rect x="86" y="332.7189586635238" width="6.5" height="1.2" fill="#303030" filter="url(#bl3)"/>
<rect x="86" y="336.5888898301324" width="6.5" height="1.2" fill="#3d3d3d" filter="url(#bl3)"/>
<rect x="86" y="341.42879830225064" width="6.5" height="1.2" fill="#3d3d3d" filter="url(#bl3)"/>
<rect x="85.8" y="324.71999999999997" width="6.9" height="1.36" fill="#6f6f6f" filter="url(#bl)"/>
<rect x="85.8" y="335.552" width="6.9" height="1.4960000000000002" fill="#bbbbbb" filter="url(#bl)"/>
<rect x="97.0" y="312.0" width="9.0" height="31.80000000000001" fill="#303030" filter="url(#bl2)"/>
<rect x="98.5" y="314.11854348171323" width="6.0" height="1.2" fill="#363636" filter="url(#bl3)"/>
<rect x="98.5" y="317.81547997867403" width="6.0" height="1.2" fill="#313131" filter="url(#bl3)"/>
<rect x="98.5" y="321.76004843316963" width="6.0" height="1.2" fill="#363636" filter="url(#bl3)"/>
<rect x="98.5" y="324.4467918980257" width="6.0" height="1.2" fill="#313131" filter="url(#bl3)"/>
<rect x="98.5" y="329.90079470029553" width="6.0" height="1.2" fill="#373737" filter="url(#bl3)"/>
<rect x="98.5" y="332.88770426361185" width="6.0" height="1.2" fill="#353535" filter="url(#bl3)"/>
<rect x="98.5" y="337.1898860451253" width="6.0" height="1.2" fill="#313131" filter="url(#bl3)"/>
<rect x="98.5" y="339.69058589082937" width="6.0" height="1.2" fill="#323232" filter="url(#bl3)"/>
<rect x="98.3" y="324.71999999999997" width="6.4" height="1.36" fill="#555555" filter="url(#bl)"/>
<rect x="98.3" y="335.552" width="6.4" height="1.4960000000000002" fill="#bbbbbb" filter="url(#bl)"/>
<rect x="110.0" y="312.0" width="10.0" height="31.80000000000001" fill="#303030" filter="url(#bl2)"/>
<rect x="111.5" y="314.89789751713886" width="7.0" height="1.2" fill="#393939" filter="url(#bl3)"/>
<rect x="111.5" y="317.4744001771373" width="7.0" height="1.2" fill="#3d3d3d" filter="url(#bl3)"/>
<rect x="111.5" y="320.59825822547356" width="7.0" height="1.2" fill="#363636" filter="url(#bl3)"/>
<rect x="111.5" y="323.54390968146623" width="7.0" height="1.2" fill="#343434" filter="url(#bl3)"/>
<rect x="111.5" y="328.91031375323064" width="7.0" height="1.2" fill="#393939" filter="url(#bl3)"/>
<rect x="111.5" y="332.5028040718155" width="7.0" height="1.2" fill="#313131" filter="url(#bl3)"/>
<rect x="111.5" y="335.34886462014197" width="7.0" height="1.2" fill="#373737" filter="url(#bl3)"/>
<rect x="111.5" y="340.82817278525613" width="7.0" height="1.2" fill="#373737" filter="url(#bl3)"/>
<rect x="111.3" y="324.71999999999997" width="7.4" height="1.36" fill="#636363" filter="url(#bl)"/>
<rect x="111.3" y="335.552" width="7.4" height="1.4960000000000002" fill="#acacac" filter="url(#bl)"/>
<rect x="122.0" y="312.0" width="10.0" height="31.80000000000001" fill="#303030" filter="url(#bl2)"/>
<rect x="123.5" y="313.62370462843603" width="7.0" height="1.2" fill="#323232" filter="url(#bl3)"/>
<rect x="123.5" y="316.43026747868055" width="7.0" height="1.2" fill="#353535" filter="url(#bl3)"/>
<rect x="123.5" y="321.15132115196485" width="7.0" height="1.2" fill="#373737" filter="url(#bl3)"/>
<rect x="123.5" y="326.13788728632954" width="7.0" height="1.2" fill="#323232" filter="url(#bl3)"/>
<rect x="123.5" y="330.18689084321653" width="7.0" height="1.2" fill="#333333" filter="url(#bl3)"/>
<rect x="123.5" y="335.53984756184065" width="7.0" height="1.2" fill="#383838" filter="url(#bl3)"/>
<rect x="123.5" y="339.12510493886765" width="7.0" height="1.2" fill="#3b3b3b" filter="url(#bl3)"/>
<rect x="123.3" y="324.848" width="7.4" height="1.904" fill="#cbcbcb" filter="url(#bl)"/>
<rect x="123.3" y="335.552" width="7.4" height="1.4960000000000002" fill="#bbbbbb" filter="url(#bl)"/>
<rect x="134.5" y="312.0" width="10" height="31.80000000000001" fill="#303030" filter="url(#bl2)"/>
<rect x="136" y="313.05408498284436" width="7" height="1.2" fill="#383838" filter="url(#bl3)"/>
<rect x="136" y="316.4483540538832" width="7" height="1.2" fill="#3a3a3a" filter="url(#bl3)"/>
<rect x="136" y="321.5383291447522" width="7" height="1.2" fill="#3b3b3b" filter="url(#bl3)"/>
<rect x="136" y="326.5746719279004" width="7" height="1.2" fill="#383838" filter="url(#bl3)"/>
<rect x="136" y="330.17477130318395" width="7" height="1.2" fill="#323232" filter="url(#bl3)"/>
<rect x="136" y="333.74185981265276" width="7" height="1.2" fill="#333333" filter="url(#bl3)"/>
<rect x="136" y="337.8396370051314" width="7" height="1.2" fill="#3c3c3c" filter="url(#bl3)"/>
<rect x="136" y="341.8477280748074" width="7" height="1.2" fill="#3a3a3a" filter="url(#bl3)"/>
<rect x="135.8" y="317.28" width="7.4" height="5.44" fill="#414141" filter="url(#bl)"/>
<rect x="147.0" y="312.0" width="8.5" height="31.80000000000001" fill="#303030" filter="url(#bl2)"/>
<rect x="148.5" y="314.6230224935472" width="5.5" height="1.2" fill="#3c3c3c" filter="url(#bl3)"/>
<rect x="148.5" y="319.6809088897872" width="5.5" height="1.2" fill="#3c3c3c" filter="url(#bl3)"/>
<rect x="148.5" y="322.89907191408605" width="5.5" height="1.2" fill="#363636" filter="url(#bl3)"/>
<rect x="148.5" y="327.6186909752132" width="5.5" height="1.2" fill="#333333" filter="url(#bl3)"/>
<rect x="148.5" y="330.71844492539867" width="5.5" height="1.2" fill="#373737" filter="url(#bl3)"/>
<rect x="148.5" y="334.2851325554635" width="5.5" height="1.2" fill="#303030" filter="url(#bl3)"/>
<rect x="148.5" y="339.7539433155727" width="5.5" height="1.2" fill="#3c3c3c" filter="url(#bl3)"/>
<rect x="148.3" y="324.71999999999997" width="5.9" height="1.36" fill="#555555" filter="url(#bl)"/>
<rect x="148.3" y="335.952" width="5.9" height="1.4960000000000002" fill="#9d9d9d" filter="url(#bl)"/>
<rect x="59.4" y="346.6" width="96.79999999999998" height="34.39999999999998" fill="#2e2e2e" />
<rect x="60.7" y="347.6" width="7.0" height="32.39999999999998" fill="#3a3a3a" filter="url(#bl2)"/>
<rect x="61.2" y="347.8" width="6.0" height="2.4000000000000004" fill="#969696" filter="url(#bl)"/>
<rect x="61.2" y="351.5" width="6.0" height="2.0" fill="#616161" filter="url(#bl)"/>
<rect x="61.2" y="357.52" width="6.0" height="1.7600000000000002" fill="#b3b3b3" filter="url(#bl)"/>
<rect x="61.2" y="362.32" width="6.0" height="0.96" fill="#575757" filter="url(#bl)"/>
<rect x="61.2" y="367.32" width="6.0" height="0.96" fill="#505050" filter="url(#bl)"/>
<rect x="61.2" y="371.82" width="6.0" height="0.96" fill="#505050" filter="url(#bl)"/>
<rect x="61.2" y="376.28" width="6.0" height="1.4400000000000002" fill="#a5a5a5" filter="url(#bl)"/>
<rect x="72.0" y="347.6" width="9.0" height="32.39999999999998" fill="#3c3c3c" filter="url(#bl2)"/>
<rect x="73.5" y="349.11834872653554" width="6.0" height="1.2" fill="#3b3b3b" filter="url(#bl3)"/>
<rect x="73.5" y="353.43376582158237" width="6.0" height="1.2" fill="#353535" filter="url(#bl3)"/>
<rect x="73.5" y="357.27544885488254" width="6.0" height="1.2" fill="#3e3e3e" filter="url(#bl3)"/>
<rect x="73.5" y="361.9448327380914" width="6.0" height="1.2" fill="#353535" filter="url(#bl3)"/>
<rect x="73.5" y="367.3098346320554" width="6.0" height="1.2" fill="#353535" filter="url(#bl3)"/>
<rect x="73.5" y="370.0514490085213" width="6.0" height="1.2" fill="#313131" filter="url(#bl3)"/>
<rect x="73.5" y="373.23198648871346" width="6.0" height="1.2" fill="#333333" filter="url(#bl3)"/>
<rect x="73.5" y="376.74519892822906" width="6.0" height="1.2" fill="#373737" filter="url(#bl3)"/>
<rect x="73.3" y="349.98" width="6.4" height="2.04" fill="#4a4a4a" filter="url(#bl)"/>
<rect x="73.3" y="355.32" width="6.4" height="1.36" fill="#454545" filter="url(#bl)"/>
<rect x="73.3" y="361.71999999999997" width="6.4" height="1.36" fill="#969696" filter="url(#bl)"/>
<rect x="73.3" y="365.32" width="6.4" height="1.36" fill="#454545" filter="url(#bl)"/>
<rect x="73.3" y="371.952" width="6.4" height="1.4960000000000002" fill="#b3b3b3" filter="url(#bl)"/>
<rect x="73.3" y="376.32" width="6.4" height="1.36" fill="#404040" filter="url(#bl)"/>
<rect x="84.5" y="347.6" width="9.5" height="32.39999999999998" fill="#3c3c3c" filter="url(#bl2)"/>
<rect x="86" y="350.4006166757683" width="6.5" height="1.2" fill="#3d3d3d" filter="url(#bl3)"/>
<rect x="86" y="352.9063416157585" width="6.5" height="1.2" fill="#3e3e3e" filter="url(#bl3)"/>
<rect x="86" y="357.3652757442815" width="6.5" height="1.2" fill="#3c3c3c" filter="url(#bl3)"/>
<rect x="86" y="361.7946750353672" width="6.5" height="1.2" fill="#3d3d3d" filter="url(#bl3)"/>
<rect x="86" y="366.2764319859819" width="6.5" height="1.2" fill="#3e3e3e" filter="url(#bl3)"/>
<rect x="86" y="369.94203921744173" width="6.5" height="1.2" fill="#3b3b3b" filter="url(#bl3)"/>
<rect x="86" y="374.69246059693313" width="6.5" height="1.2" fill="#373737" filter="url(#bl3)"/>
<rect x="85.8" y="348.98" width="6.9" height="2.04" fill="#454545" filter="url(#bl)"/>
<rect x="85.8" y="355.32" width="6.9" height="1.36" fill="#454545" filter="url(#bl)"/>
<rect x="85.8" y="361.71999999999997" width="6.9" height="1.36" fill="#969696" filter="url(#bl)"/>
<rect x="85.8" y="365.32" width="6.9" height="1.36" fill="#454545" filter="url(#bl)"/>
<rect x="85.8" y="371.652" width="6.9" height="1.4960000000000002" fill="#a5a5a5" filter="url(#bl)"/>
<rect x="97.0" y="347.6" width="9.0" height="32.39999999999998" fill="#3e3e3e" filter="url(#bl2)"/>
<rect x="98.5" y="349.4678501514962" width="6.0" height="1.2" fill="#3a3a3a" filter="url(#bl3)"/>
<rect x="98.5" y="352.96540175109" width="6.0" height="1.2" fill="#3c3c3c" filter="url(#bl3)"/>
<rect x="98.5" y="358.30389778728403" width="6.0" height="1.2" fill="#3b3b3b" filter="url(#bl3)"/>
<rect x="98.5" y="361.99141327249237" width="6.0" height="1.2" fill="#363636" filter="url(#bl3)"/>
<rect x="98.5" y="366.72147140490534" width="6.0" height="1.2" fill="#313131" filter="url(#bl3)"/>
<rect x="98.5" y="371.395867401808" width="6.0" height="1.2" fill="#323232" filter="url(#bl3)"/>
<rect x="98.5" y="376.87520447105953" width="6.0" height="1.2" fill="#303030" filter="url(#bl3)"/>
<rect x="98.3" y="349.32" width="6.4" height="1.36" fill="#4e4e4e" filter="url(#bl)"/>
<rect x="98.3" y="354.21999999999997" width="6.4" height="1.36" fill="#969696" filter="url(#bl)"/>
<rect x="98.3" y="361.856" width="6.4" height="1.088" fill="#797979" filter="url(#bl)"/>
<rect x="98.3" y="367.688" width="6.4" height="1.2240000000000002" fill="#a5a5a5" filter="url(#bl)"/>
<rect x="98.3" y="373.08799999999997" width="6.4" height="1.2240000000000002" fill="#888888" filter="url(#bl)"/>
<rect x="98.3" y="376.32" width="6.4" height="1.36" fill="#4a4a4a" filter="url(#bl)"/>
<rect x="110.0" y="347.6" width="10.0" height="32.39999999999998" fill="#3c3c3c" filter="url(#bl2)"/>
<rect x="111.5" y="350.4097041914665" width="7.0" height="1.2" fill="#3c3c3c" filter="url(#bl3)"/>
<rect x="111.5" y="354.87727876133647" width="7.0" height="1.2" fill="#393939" filter="url(#bl3)"/>
<rect x="111.5" y="359.85681019691265" width="7.0" height="1.2" fill="#373737" filter="url(#bl3)"/>
<rect x="111.5" y="364.3286150751207" width="7.0" height="1.2" fill="#353535" filter="url(#bl3)"/>
<rect x="111.5" y="367.2963523523154" width="7.0" height="1.2" fill="#383838" filter="url(#bl3)"/>
<rect x="111.5" y="370.1893039083438" width="7.0" height="1.2" fill="#303030" filter="url(#bl3)"/>
<rect x="111.5" y="375.0873749434359" width="7.0" height="1.2" fill="#3b3b3b" filter="url(#bl3)"/>
<rect x="111.3" y="348.98" width="7.4" height="2.04" fill="#4e4e4e" filter="url(#bl)"/>
<rect x="111.3" y="354.32" width="7.4" height="1.36" fill="#454545" filter="url(#bl)"/>
<rect x="111.3" y="360.98400000000004" width="7.4" height="1.6320000000000001" fill="#c2c2c2" filter="url(#bl)"/>
<rect x="111.3" y="365.32" width="7.4" height="1.36" fill="#4e4e4e" filter="url(#bl)"/>
<rect x="111.3" y="371.652" width="7.4" height="1.4960000000000002" fill="#a5a5a5" filter="url(#bl)"/>
<rect x="122.0" y="347.6" width="10.0" height="32.39999999999998" fill="#3c3c3c" filter="url(#bl2)"/>
<rect x="123.5" y="349.65316209419814" width="7.0" height="1.2" fill="#3e3e3e" filter="url(#bl3)"/>
<rect x="123.5" y="352.57091428041775" width="7.0" height="1.2" fill="#3d3d3d" filter="url(#bl3)"/>
<rect x="123.5" y="355.6553306063927" width="7.0" height="1.2" fill="#3d3d3d" filter="url(#bl3)"/>
<rect x="123.5" y="358.78845761837715" width="7.0" height="1.2" fill="#343434" filter="url(#bl3)"/>
<rect x="123.5" y="361.9267969954146" width="7.0" height="1.2" fill="#383838" filter="url(#bl3)"/>
<rect x="123.5" y="365.1484151730896" width="7.0" height="1.2" fill="#393939" filter="url(#bl3)"/>
<rect x="123.5" y="368.62638309680597" width="7.0" height="1.2" fill="#383838" filter="url(#bl3)"/>
<rect x="123.5" y="372.3834207550696" width="7.0" height="1.2" fill="#323232" filter="url(#bl3)"/>
<rect x="123.5" y="375.0661343287195" width="7.0" height="1.2" fill="#3b3b3b" filter="url(#bl3)"/>
<rect x="123.5" y="378.6274864005793" width="7.0" height="1.2" fill="#373737" filter="url(#bl3)"/>
<rect x="123.3" y="349.98" width="7.4" height="2.04" fill="#454545" filter="url(#bl)"/>
<rect x="123.3" y="355.32" width="7.4" height="1.36" fill="#454545" filter="url(#bl)"/>
<rect x="123.3" y="361.12" width="7.4" height="1.36" fill="#969696" filter="url(#bl)"/>
<rect x="123.3" y="365.32" width="7.4" height="1.36" fill="#454545" filter="url(#bl)"/>
<rect x="123.3" y="371.652" width="7.4" height="1.4960000000000002" fill="#969696" filter="url(#bl)"/>
<rect x="134.5" y="347.6" width="10" height="32.39999999999998" fill="#3e3e3e" filter="url(#bl2)"/>
<rect x="136" y="350.2300940648362" width="7" height="1.2" fill="#383838" filter="url(#bl3)"/>
<rect x="136" y="353.9919788769634" width="7" height="1.2" fill="#3e3e3e" filter="url(#bl3)"/>
<rect x="136" y="359.1264852180702" width="7" height="1.2" fill="#323232" filter="url(#bl3)"/>
<rect x="136" y="363.221960105378" width="7" height="1.2" fill="#383838" filter="url(#bl3)"/>
<rect x="136" y="367.25360114206813" width="7" height="1.2" fill="#3d3d3d" filter="url(#bl3)"/>
<rect x="136" y="371.073975879223" width="7" height="1.2" fill="#323232" filter="url(#bl3)"/>
<rect x="136" y="375.3996397960775" width="7" height="1.2" fill="#3c3c3c" filter="url(#bl3)"/>
<rect x="135.8" y="348.98" width="7.4" height="2.04" fill="#4e4e4e" filter="url(#bl)"/>
<rect x="135.8" y="354.32" width="7.4" height="1.36" fill="#4e4e4e" filter="url(#bl)"/>
<rect x="135.8" y="360.98400000000004" width="7.4" height="1.6320000000000001" fill="#c2c2c2" filter="url(#bl)"/>
<rect x="135.8" y="365.32" width="7.4" height="1.36" fill="#4e4e4e" filter="url(#bl)"/>
<rect x="135.8" y="371.816" width="7.4" height="1.7680000000000002" fill="#d0d0d0" filter="url(#bl)"/>
<rect x="135.8" y="376.32" width="7.4" height="1.36" fill="#4e4e4e" filter="url(#bl)"/>
<rect x="147.0" y="347.6" width="8.5" height="32.39999999999998" fill="#363636" filter="url(#bl2)"/>
<rect x="148.5" y="348.94469342442693" width="5.5" height="1.2" fill="#373737" filter="url(#bl3)"/>
<rect x="148.5" y="353.30199714197744" width="5.5" height="1.2" fill="#313131" filter="url(#bl3)"/>
<rect x="148.5" y="357.47142401668407" width="5.5" height="1.2" fill="#353535" filter="url(#bl3)"/>
<rect x="148.5" y="362.01841811089974" width="5.5" height="1.2" fill="#383838" filter="url(#bl3)"/>
<rect x="148.5" y="366.1847437355405" width="5.5" height="1.2" fill="#3c3c3c" filter="url(#bl3)"/>
<rect x="148.5" y="371.01421403709656" width="5.5" height="1.2" fill="#3e3e3e" filter="url(#bl3)"/>
<rect x="148.5" y="375.19510243784845" width="5.5" height="1.2" fill="#333333" filter="url(#bl3)"/>
<rect x="148.5" y="378.26902083133183" width="5.5" height="1.2" fill="#303030" filter="url(#bl3)"/>
<rect x="148.3" y="362.25600000000003" width="5.9" height="1.088" fill="#6b6b6b" filter="url(#bl)"/>
<rect x="148.3" y="373.02" width="5.9" height="1.36" fill="#a5a5a5" filter="url(#bl)"/>
<rect x="158.7" y="275.6" width="87.20000000000002" height="34.69999999999999" fill="#292929" />
<rect x="160.0" y="276.6" width="7.400000000000006" height="32.69999999999999" fill="#3a3a3a" filter="url(#bl2)"/>
<rect x="160.5" y="277.12" width="6.400000000000006" height="0.96" fill="#434343" filter="url(#bl)"/>
<rect x="160.5" y="288.3" width="6.400000000000006" height="1.6" fill="#8b8b8b" filter="url(#bl)"/>
<rect x="160.5" y="291.71999999999997" width="6.400000000000006" height="0.96" fill="#515151" filter="url(#bl)"/>
<rect x="160.5" y="295.91999999999996" width="6.400000000000006" height="0.96" fill="#4a4a4a" filter="url(#bl)"/>
<rect x="160.5" y="299.91999999999996" width="6.400000000000006" height="0.96" fill="#4a4a4a" filter="url(#bl)"/>
<rect x="160.5" y="305.02" width="6.400000000000006" height="0.96" fill="#4a4a4a" filter="url(#bl)"/>
<rect x="171.0" y="276.6" width="10.099999999999994" height="32.69999999999999" fill="#303030" filter="url(#bl2)"/>
<rect x="172.5" y="278.61542798358465" width="7.099999999999994" height="1.2" fill="#383838" filter="url(#bl3)"/>
<rect x="172.5" y="281.19902525830514" width="7.099999999999994" height="1.2" fill="#3e3e3e" filter="url(#bl3)"/>
<rect x="172.5" y="286.4364893672946" width="7.099999999999994" height="1.2" fill="#373737" filter="url(#bl3)"/>
<rect x="172.5" y="289.91333027938026" width="7.099999999999994" height="1.2" fill="#383838" filter="url(#bl3)"/>
<rect x="172.5" y="294.2317433249094" width="7.099999999999994" height="1.2" fill="#333333" filter="url(#bl3)"/>
<rect x="172.5" y="298.8099363325541" width="7.099999999999994" height="1.2" fill="#373737" filter="url(#bl3)"/>
<rect x="172.5" y="302.8344047962123" width="7.099999999999994" height="1.2" fill="#3c3c3c" filter="url(#bl3)"/>
<rect x="172.5" y="306.76851375030856" width="7.099999999999994" height="1.2" fill="#333333" filter="url(#bl3)"/>
<rect x="172.3" y="301.824" width="7.499999999999995" height="0.952" fill="#393939" filter="url(#bl)"/>
<rect x="172.3" y="304.82" width="7.499999999999995" height="1.36" fill="#4e4e4e" filter="url(#bl)"/>
<rect x="183.7" y="276.6" width="10.600000000000023" height="32.69999999999999" fill="#303030" filter="url(#bl2)"/>
<rect x="185.2" y="279.3530709635612" width="7.600000000000023" height="1.2" fill="#3e3e3e" filter="url(#bl3)"/>
<rect x="185.2" y="282.6318478459143" width="7.600000000000023" height="1.2" fill="#383838" filter="url(#bl3)"/>
<rect x="185.2" y="287.8101126711824" width="7.600000000000023" height="1.2" fill="#333333" filter="url(#bl3)"/>
<rect x="185.2" y="292.830112021362" width="7.600000000000023" height="1.2" fill="#323232" filter="url(#bl3)"/>
<rect x="185.2" y="296.58002319080805" width="7.600000000000023" height="1.2" fill="#363636" filter="url(#bl3)"/>
<rect x="185.2" y="300.40637745563316" width="7.600000000000023" height="1.2" fill="#313131" filter="url(#bl3)"/>
<rect x="185.2" y="304.91984379684493" width="7.600000000000023" height="1.2" fill="#363636" filter="url(#bl3)"/>
<rect x="185.2" y="307.63920609776295" width="7.600000000000023" height="1.2" fill="#3a3a3a" filter="url(#bl3)"/>
<rect x="185.0" y="290.62" width="8.000000000000023" height="1.36" fill="#626262" filter="url(#bl)"/>
<rect x="185.0" y="304.82" width="8.000000000000023" height="1.36" fill="#626262" filter="url(#bl)"/>
<rect x="196.5" y="276.6" width="10.599999999999994" height="32.69999999999999" fill="#303030" filter="url(#bl2)"/>
<rect x="198" y="277.84469977463823" width="7.599999999999994" height="1.2" fill="#3c3c3c" filter="url(#bl3)"/>
<rect x="198" y="280.8080396459443" width="7.599999999999994" height="1.2" fill="#3b3b3b" filter="url(#bl3)"/>
<rect x="198" y="285.2384136422972" width="7.599999999999994" height="1.2" fill="#353535" filter="url(#bl3)"/>
<rect x="198" y="288.1673506360699" width="7.599999999999994" height="1.2" fill="#3e3e3e" filter="url(#bl3)"/>
<rect x="198" y="291.0791144449658" width="7.599999999999994" height="1.2" fill="#373737" filter="url(#bl3)"/>
<rect x="198" y="294.23787793737154" width="7.599999999999994" height="1.2" fill="#313131" filter="url(#bl3)"/>
<rect x="198" y="297.93264856152337" width="7.599999999999994" height="1.2" fill="#373737" filter="url(#bl3)"/>
<rect x="198" y="300.92103407472183" width="7.599999999999994" height="1.2" fill="#3a3a3a" filter="url(#bl3)"/>
<rect x="198" y="305.91836808317066" width="7.599999999999994" height="1.2" fill="#323232" filter="url(#bl3)"/>
<rect x="197.8" y="290.62" width="7.999999999999995" height="1.36" fill="#6c6c6c" filter="url(#bl)"/>
<rect x="197.8" y="303.35200000000003" width="7.999999999999995" height="1.4960000000000002" fill="#818181" filter="url(#bl)"/>
<rect x="209.3" y="276.6" width="10.199999999999989" height="32.69999999999999" fill="#303030" filter="url(#bl2)"/>
<rect x="210.8" y="279.5881452249826" width="7.199999999999989" height="1.2" fill="#363636" filter="url(#bl3)"/>
<rect x="210.8" y="283.1054936579991" width="7.199999999999989" height="1.2" fill="#333333" filter="url(#bl3)"/>
<rect x="210.8" y="286.6753380376892" width="7.199999999999989" height="1.2" fill="#313131" filter="url(#bl3)"/>
<rect x="210.8" y="291.3417905431127" width="7.199999999999989" height="1.2" fill="#303030" filter="url(#bl3)"/>
<rect x="210.8" y="294.8557296008663" width="7.199999999999989" height="1.2" fill="#373737" filter="url(#bl3)"/>
<rect x="210.8" y="298.6771039062744" width="7.199999999999989" height="1.2" fill="#303030" filter="url(#bl3)"/>
<rect x="210.8" y="302.33013757999663" width="7.199999999999989" height="1.2" fill="#383838" filter="url(#bl3)"/>
<rect x="210.8" y="306.7019188016722" width="7.199999999999989" height="1.2" fill="#383838" filter="url(#bl3)"/>
<rect x="210.60000000000002" y="290.62" width="7.599999999999989" height="1.36" fill="#6c6c6c" filter="url(#bl)"/>
<rect x="210.60000000000002" y="302.952" width="7.599999999999989" height="1.4960000000000002" fill="#818181" filter="url(#bl)"/>
<rect x="222.1" y="276.6" width="10.200000000000017" height="32.69999999999999" fill="#303030" filter="url(#bl2)"/>
<rect x="223.6" y="277.82569991625974" width="7.200000000000017" height="1.2" fill="#3e3e3e" filter="url(#bl3)"/>
<rect x="223.6" y="282.6907890845525" width="7.200000000000017" height="1.2" fill="#3e3e3e" filter="url(#bl3)"/>
<rect x="223.6" y="285.50512786737096" width="7.200000000000017" height="1.2" fill="#343434" filter="url(#bl3)"/>
<rect x="223.6" y="288.82088924070285" width="7.200000000000017" height="1.2" fill="#3e3e3e" filter="url(#bl3)"/>
<rect x="223.6" y="293.65788153090654" width="7.200000000000017" height="1.2" fill="#343434" filter="url(#bl3)"/>
<rect x="223.6" y="298.4252111744888" width="7.200000000000017" height="1.2" fill="#3d3d3d" filter="url(#bl3)"/>
<rect x="223.6" y="302.19197371832183" width="7.200000000000017" height="1.2" fill="#3e3e3e" filter="url(#bl3)"/>
<rect x="223.6" y="306.71989463095224" width="7.200000000000017" height="1.2" fill="#343434" filter="url(#bl3)"/>
<rect x="223.4" y="290.62" width="7.600000000000017" height="1.36" fill="#585858" filter="url(#bl)"/>
<rect x="223.4" y="303.652" width="7.600000000000017" height="1.4960000000000002" fill="#6c6c6c" filter="url(#bl)"/>
<rect x="234.9" y="276.6" width="10.0" height="32.69999999999999" fill="#303030" filter="url(#bl2)"/>
<rect x="236.4" y="278.6731977808352" width="7.0" height="1.2" fill="#383838" filter="url(#bl3)"/>
<rect x="236.4" y="282.88498255701495" width="7.0" height="1.2" fill="#3b3b3b" filter="url(#bl3)"/>
<rect x="236.4" y="286.36612806760195" width="7.0" height="1.2" fill="#343434" filter="url(#bl3)"/>
<rect x="236.4" y="289.0387076049248" width="7.0" height="1.2" fill="#3b3b3b" filter="url(#bl3)"/>
<rect x="236.4" y="292.08873970110176" width="7.0" height="1.2" fill="#3e3e3e" filter="url(#bl3)"/>
<rect x="236.4" y="294.80598198527133" width="7.0" height="1.2" fill="#303030" filter="url(#bl3)"/>
<rect x="236.4" y="299.20930050416104" width="7.0" height="1.2" fill="#3c3c3c" filter="url(#bl3)"/>
<rect x="236.4" y="302.490956160344" width="7.0" height="1.2" fill="#393939" filter="url(#bl3)"/>
<rect x="236.4" y="307.55964206946044" width="7.0" height="1.2" fill="#313131" filter="url(#bl3)"/>
<rect x="236.20000000000002" y="290.62" width="7.4" height="1.36" fill="#626262" filter="url(#bl)"/>
<rect x="236.20000000000002" y="304.052" width="7.4" height="1.4960000000000002" fill="#818181" filter="url(#bl)"/>
<rect x="172" y="298.3" width="3.5" height="1.6" fill="#999" filter="url(#bl)"/>
<rect x="158.7" y="310.9" width="87.20000000000002" height="34.5" fill="#292929" />
<rect x="160.0" y="311.9" width="7.400000000000006" height="32.5" fill="#3a3a3a" filter="url(#bl2)"/>
<rect x="160.5" y="312.12" width="6.400000000000006" height="0.96" fill="#4f4f4f" filter="url(#bl)"/>
<rect x="160.5" y="323.22" width="6.400000000000006" height="1.7600000000000002" fill="#bbbbbb" filter="url(#bl)"/>
<rect x="160.5" y="327.21999999999997" width="6.400000000000006" height="0.96" fill="#656565" filter="url(#bl)"/>
<rect x="160.5" y="330.91999999999996" width="6.400000000000006" height="0.96" fill="#5a5a5a" filter="url(#bl)"/>
<rect x="160.5" y="334.91999999999996" width="6.400000000000006" height="0.96" fill="#5a5a5a" filter="url(#bl)"/>
<rect x="160.5" y="339.94" width="6.400000000000006" height="1.1199999999999999" fill="#656565" filter="url(#bl)"/>
<rect x="171.0" y="311.9" width="10.099999999999994" height="32.5" fill="#313131" filter="url(#bl2)"/>
<rect x="172.5" y="313.1433551170494" width="7.099999999999994" height="1.2" fill="#303030" filter="url(#bl3)"/>
<rect x="172.5" y="316.6608104489033" width="7.099999999999994" height="1.2" fill="#383838" filter="url(#bl3)"/>
<rect x="172.5" y="320.4140914519911" width="7.099999999999994" height="1.2" fill="#3e3e3e" filter="url(#bl3)"/>
<rect x="172.5" y="323.7176706920235" width="7.099999999999994" height="1.2" fill="#323232" filter="url(#bl3)"/>
<rect x="172.5" y="326.3472877615416" width="7.099999999999994" height="1.2" fill="#3b3b3b" filter="url(#bl3)"/>
<rect x="172.5" y="329.5625962699257" width="7.099999999999994" height="1.2" fill="#313131" filter="url(#bl3)"/>
<rect x="172.5" y="334.9702347190309" width="7.099999999999994" height="1.2" fill="#343434" filter="url(#bl3)"/>
<rect x="172.5" y="337.62137387065945" width="7.099999999999994" height="1.2" fill="#333333" filter="url(#bl3)"/>
<rect x="172.5" y="342.91811453621426" width="7.099999999999994" height="1.2" fill="#3a3a3a" filter="url(#bl3)"/>
<rect x="172.3" y="327.82" width="7.499999999999995" height="1.36" fill="#636363" filter="url(#bl)"/>
<rect x="172.3" y="336.656" width="7.499999999999995" height="1.088" fill="#555555" filter="url(#bl)"/>
<rect x="172.3" y="340.21999999999997" width="7.499999999999995" height="1.36" fill="#6f6f6f" filter="url(#bl)"/>
<rect x="183.7" y="311.9" width="10.600000000000023" height="32.5" fill="#313131" filter="url(#bl2)"/>
<rect x="185.2" y="314.4189965099971" width="7.600000000000023" height="1.2" fill="#343434" filter="url(#bl3)"/>
<rect x="185.2" y="318.2560571291447" width="7.600000000000023" height="1.2" fill="#3a3a3a" filter="url(#bl3)"/>
<rect x="185.2" y="321.2897567817835" width="7.600000000000023" height="1.2" fill="#353535" filter="url(#bl3)"/>
<rect x="185.2" y="326.20079361631025" width="7.600000000000023" height="1.2" fill="#343434" filter="url(#bl3)"/>
<rect x="185.2" y="328.81164167094306" width="7.600000000000023" height="1.2" fill="#303030" filter="url(#bl3)"/>
<rect x="185.2" y="333.51088282124" width="7.600000000000023" height="1.2" fill="#383838" filter="url(#bl3)"/>
<rect x="185.2" y="338.94503770105115" width="7.600000000000023" height="1.2" fill="#383838" filter="url(#bl3)"/>
<rect x="185.2" y="342.86931961660434" width="7.600000000000023" height="1.2" fill="#3e3e3e" filter="url(#bl3)"/>
<rect x="185.0" y="327.752" width="8.000000000000023" height="1.4960000000000002" fill="#7e7e7e" filter="url(#bl)"/>
<rect x="185.0" y="340.62" width="8.000000000000023" height="1.36" fill="#7e7e7e" filter="url(#bl)"/>
<rect x="196.5" y="311.9" width="10.599999999999994" height="32.5" fill="#313131" filter="url(#bl2)"/>
<rect x="198" y="314.21664064256726" width="7.599999999999994" height="1.2" fill="#3a3a3a" filter="url(#bl3)"/>
<rect x="198" y="318.0131733999205" width="7.599999999999994" height="1.2" fill="#373737" filter="url(#bl3)"/>
<rect x="198" y="322.150892155701" width="7.599999999999994" height="1.2" fill="#3e3e3e" filter="url(#bl3)"/>
<rect x="198" y="325.83015038238574" width="7.599999999999994" height="1.2" fill="#383838" filter="url(#bl3)"/>
<rect x="198" y="329.25349953238197" width="7.599999999999994" height="1.2" fill="#333333" filter="url(#bl3)"/>
<rect x="198" y="334.70082115362635" width="7.599999999999994" height="1.2" fill="#353535" filter="url(#bl3)"/>
<rect x="198" y="337.79669460260067" width="7.599999999999994" height="1.2" fill="#3e3e3e" filter="url(#bl3)"/>
<rect x="198" y="342.41687080753934" width="7.599999999999994" height="1.2" fill="#3a3a3a" filter="url(#bl3)"/>
<rect x="197.8" y="321.156" width="7.999999999999995" height="1.088" fill="#606060" filter="url(#bl)"/>
<rect x="197.8" y="327.616" width="7.999999999999995" height="1.7680000000000002" fill="#cbcbcb" filter="url(#bl)"/>
<rect x="197.8" y="340.28000000000003" width="7.999999999999995" height="2.04" fill="#e9e9e9" filter="url(#bl)"/>
<rect x="209.3" y="311.9" width="10.199999999999989" height="32.5" fill="#313131" filter="url(#bl2)"/>
<rect x="210.8" y="314.8788761339717" width="7.199999999999989" height="1.2" fill="#303030" filter="url(#bl3)"/>
<rect x="210.8" y="319.8898411488873" width="7.199999999999989" height="1.2" fill="#303030" filter="url(#bl3)"/>
<rect x="210.8" y="322.6020095956393" width="7.199999999999989" height="1.2" fill="#3b3b3b" filter="url(#bl3)"/>
<rect x="210.8" y="327.7415724093295" width="7.199999999999989" height="1.2" fill="#363636" filter="url(#bl3)"/>
<rect x="210.8" y="330.73131197015863" width="7.199999999999989" height="1.2" fill="#313131" filter="url(#bl3)"/>
<rect x="210.8" y="335.22699501080587" width="7.199999999999989" height="1.2" fill="#363636" filter="url(#bl3)"/>
<rect x="210.8" y="340.3386084745491" width="7.199999999999989" height="1.2" fill="#3a3a3a" filter="url(#bl3)"/>
<rect x="210.60000000000002" y="327.82" width="7.599999999999989" height="1.36" fill="#636363" filter="url(#bl)"/>
<rect x="210.60000000000002" y="340.21999999999997" width="7.599999999999989" height="1.36" fill="#6f6f6f" filter="url(#bl)"/>
<rect x="222.1" y="311.9" width="10.200000000000017" height="32.5" fill="#313131" filter="url(#bl2)"/>
<rect x="223.6" y="314.0975568271013" width="7.200000000000017" height="1.2" fill="#3b3b3b" filter="url(#bl3)"/>
<rect x="223.6" y="317.4767323048423" width="7.200000000000017" height="1.2" fill="#373737" filter="url(#bl3)"/>
<rect x="223.6" y="320.5327883906121" width="7.200000000000017" height="1.2" fill="#343434" filter="url(#bl3)"/>
<rect x="223.6" y="324.37026221531335" width="7.200000000000017" height="1.2" fill="#343434" filter="url(#bl3)"/>
<rect x="223.6" y="327.9626862718833" width="7.200000000000017" height="1.2" fill="#353535" filter="url(#bl3)"/>
<rect x="223.6" y="333.3805552657224" width="7.200000000000017" height="1.2" fill="#383838" filter="url(#bl3)"/>
<rect x="223.6" y="336.8511569490808" width="7.200000000000017" height="1.2" fill="#303030" filter="url(#bl3)"/>
<rect x="223.6" y="342.24815725925714" width="7.200000000000017" height="1.2" fill="#343434" filter="url(#bl3)"/>
<rect x="223.4" y="327.12" width="7.600000000000017" height="1.36" fill="#6f6f6f" filter="url(#bl)"/>
<rect x="223.4" y="339.82" width="7.600000000000017" height="1.36" fill="#7e7e7e" filter="url(#bl)"/>
<rect x="234.9" y="311.9" width="10.0" height="32.5" fill="#313131" filter="url(#bl2)"/>
<rect x="236.4" y="313.26591577531497" width="7.0" height="1.2" fill="#353535" filter="url(#bl3)"/>
<rect x="236.4" y="316.9107955951527" width="7.0" height="1.2" fill="#373737" filter="url(#bl3)"/>
<rect x="236.4" y="320.2475822118081" width="7.0" height="1.2" fill="#3a3a3a" filter="url(#bl3)"/>
<rect x="236.4" y="323.3505223744112" width="7.0" height="1.2" fill="#383838" filter="url(#bl3)"/>
<rect x="236.4" y="328.17923660368837" width="7.0" height="1.2" fill="#313131" filter="url(#bl3)"/>
<rect x="236.4" y="331.47174266109334" width="7.0" height="1.2" fill="#313131" filter="url(#bl3)"/>
<rect x="236.4" y="334.40333808490004" width="7.0" height="1.2" fill="#393939" filter="url(#bl3)"/>
<rect x="236.4" y="337.0283389579735" width="7.0" height="1.2" fill="#303030" filter="url(#bl3)"/>
<rect x="236.4" y="340.42727713633946" width="7.0" height="1.2" fill="#3a3a3a" filter="url(#bl3)"/>
<rect x="236.20000000000002" y="327.82" width="7.4" height="1.36" fill="#636363" filter="url(#bl)"/>
<rect x="236.20000000000002" y="339.82" width="7.4" height="1.36" fill="#7e7e7e" filter="url(#bl)"/>
<rect x="158.9" y="347.0" width="86.79999999999998" height="34.39999999999998" fill="#292929" />
<rect x="160.0" y="348.0" width="7.400000000000006" height="32.39999999999998" fill="#3a3a3a" filter="url(#bl2)"/>
<rect x="160.5" y="348.2" width="6.400000000000006" height="2.4000000000000004" fill="#acacac" filter="url(#bl)"/>
<rect x="160.5" y="351.8" width="6.400000000000006" height="2.4000000000000004" fill="#656565" filter="url(#bl)"/>
<rect x="160.5" y="355.3" width="6.400000000000006" height="2.4000000000000004" fill="#5a5a5a" filter="url(#bl)"/>
<rect x="160.5" y="360.34000000000003" width="6.400000000000006" height="1.92" fill="#dadada" filter="url(#bl)"/>
<rect x="160.5" y="364.12" width="6.400000000000006" height="0.96" fill="#6f6f6f" filter="url(#bl)"/>
<rect x="160.5" y="367.21999999999997" width="6.400000000000006" height="0.96" fill="#656565" filter="url(#bl)"/>
<rect x="160.5" y="371.41999999999996" width="6.400000000000006" height="0.96" fill="#656565" filter="url(#bl)"/>
<rect x="160.5" y="376.84" width="6.400000000000006" height="1.1199999999999999" fill="#656565" filter="url(#bl)"/>
<rect x="171.0" y="348.0" width="10.099999999999994" height="32.39999999999998" fill="#383838" filter="url(#bl2)"/>
<rect x="172.5" y="350.1711665683633" width="7.099999999999994" height="1.2" fill="#383838" filter="url(#bl3)"/>
<rect x="172.5" y="355.2309090656556" width="7.099999999999994" height="1.2" fill="#323232" filter="url(#bl3)"/>
<rect x="172.5" y="359.70354008559366" width="7.099999999999994" height="1.2" fill="#3b3b3b" filter="url(#bl3)"/>
<rect x="172.5" y="364.55566340299384" width="7.099999999999994" height="1.2" fill="#393939" filter="url(#bl3)"/>
<rect x="172.5" y="368.22421281617517" width="7.099999999999994" height="1.2" fill="#353535" filter="url(#bl3)"/>
<rect x="172.5" y="372.8862446302898" width="7.099999999999994" height="1.2" fill="#373737" filter="url(#bl3)"/>
<rect x="172.5" y="375.8346340774166" width="7.099999999999994" height="1.2" fill="#3b3b3b" filter="url(#bl3)"/>
<rect x="172.3" y="350.98" width="7.499999999999995" height="2.04" fill="#505050" filter="url(#bl)"/>
<rect x="172.3" y="355.98" width="7.499999999999995" height="2.04" fill="#555555" filter="url(#bl)"/>
<rect x="172.3" y="359.71999999999997" width="7.499999999999995" height="1.36" fill="#606060" filter="url(#bl)"/>
<rect x="172.3" y="365.71999999999997" width="7.499999999999995" height="1.36" fill="#9d9d9d" filter="url(#bl)"/>
<rect x="172.3" y="377.92" width="7.499999999999995" height="1.36" fill="#606060" filter="url(#bl)"/>
<rect x="183.7" y="348.0" width="10.600000000000023" height="32.39999999999998" fill="#383838" filter="url(#bl2)"/>
<rect x="185.2" y="349.28950442439003" width="7.600000000000023" height="1.2" fill="#3d3d3d" filter="url(#bl3)"/>
<rect x="185.2" y="354.2953730540917" width="7.600000000000023" height="1.2" fill="#3e3e3e" filter="url(#bl3)"/>
<rect x="185.2" y="358.3343166866497" width="7.600000000000023" height="1.2" fill="#363636" filter="url(#bl3)"/>
<rect x="185.2" y="363.03587305708055" width="7.600000000000023" height="1.2" fill="#3c3c3c" filter="url(#bl3)"/>
<rect x="185.2" y="367.0524961623228" width="7.600000000000023" height="1.2" fill="#3e3e3e" filter="url(#bl3)"/>
<rect x="185.2" y="371.12376801590835" width="7.600000000000023" height="1.2" fill="#383838" filter="url(#bl3)"/>
<rect x="185.2" y="375.3292065143518" width="7.600000000000023" height="1.2" fill="#3d3d3d" filter="url(#bl3)"/>
<rect x="185.0" y="350.98" width="8.000000000000023" height="2.04" fill="#464646" filter="url(#bl)"/>
<rect x="185.0" y="356.98" width="8.000000000000023" height="2.04" fill="#505050" filter="url(#bl)"/>
<rect x="185.0" y="365.71999999999997" width="8.000000000000023" height="1.36" fill="#9d9d9d" filter="url(#bl)"/>
<rect x="185.0" y="372.32" width="8.000000000000023" height="1.36" fill="#464646" filter="url(#bl)"/>
<rect x="185.0" y="377.85200000000003" width="8.000000000000023" height="1.4960000000000002" fill="#8d8d8d" filter="url(#bl)"/>
<rect x="196.5" y="348.0" width="10.599999999999994" height="32.39999999999998" fill="#383838" filter="url(#bl2)"/>
<rect x="198" y="350.65281824300394" width="7.599999999999994" height="1.2" fill="#393939" filter="url(#bl3)"/>
<rect x="198" y="355.54671980478935" width="7.599999999999994" height="1.2" fill="#3b3b3b" filter="url(#bl3)"/>
<rect x="198" y="360.09540591329085" width="7.599999999999994" height="1.2" fill="#3b3b3b" filter="url(#bl3)"/>
<rect x="198" y="364.524075311493" width="7.599999999999994" height="1.2" fill="#313131" filter="url(#bl3)"/>
<rect x="198" y="367.1175568903615" width="7.599999999999994" height="1.2" fill="#323232" filter="url(#bl3)"/>
<rect x="198" y="371.5289165214985" width="7.599999999999994" height="1.2" fill="#313131" filter="url(#bl3)"/>
<rect x="198" y="375.15877131614576" width="7.599999999999994" height="1.2" fill="#373737" filter="url(#bl3)"/>
<rect x="198" y="379.3343530556336" width="7.599999999999994" height="1.2" fill="#3a3a3a" filter="url(#bl3)"/>
<rect x="197.8" y="353.98" width="7.999999999999995" height="2.04" fill="#414141" filter="url(#bl)"/>
<rect x="197.8" y="365.71999999999997" width="7.999999999999995" height="1.36" fill="#8d8d8d" filter="url(#bl)"/>
<rect x="197.8" y="377.85200000000003" width="7.999999999999995" height="1.4960000000000002" fill="#8d8d8d" filter="url(#bl)"/>
<rect x="209.3" y="348.0" width="10.199999999999989" height="32.39999999999998" fill="#383838" filter="url(#bl2)"/>
<rect x="210.8" y="350.0628876787523" width="7.199999999999989" height="1.2" fill="#333333" filter="url(#bl3)"/>
<rect x="210.8" y="354.0307706233316" width="7.199999999999989" height="1.2" fill="#303030" filter="url(#bl3)"/>
<rect x="210.8" y="357.90161619742065" width="7.199999999999989" height="1.2" fill="#313131" filter="url(#bl3)"/>
<rect x="210.8" y="362.6464123080918" width="7.199999999999989" height="1.2" fill="#383838" filter="url(#bl3)"/>
<rect x="210.8" y="367.8399850498804" width="7.199999999999989" height="1.2" fill="#313131" filter="url(#bl3)"/>
<rect x="210.8" y="372.31788351779346" width="7.199999999999989" height="1.2" fill="#313131" filter="url(#bl3)"/>
<rect x="210.8" y="377.0550672466848" width="7.199999999999989" height="1.2" fill="#373737" filter="url(#bl3)"/>
<rect x="210.60000000000002" y="348.98" width="7.599999999999989" height="2.04" fill="#505050" filter="url(#bl)"/>
<rect x="210.60000000000002" y="353.98" width="7.599999999999989" height="2.04" fill="#4c4c4c" filter="url(#bl)"/>
<rect x="210.60000000000002" y="365.652" width="7.599999999999989" height="1.4960000000000002" fill="#acacac" filter="url(#bl)"/>
<rect x="210.60000000000002" y="377.92" width="7.599999999999989" height="1.36" fill="#6f6f6f" filter="url(#bl)"/>
<rect x="222.1" y="348.0" width="10.200000000000017" height="32.39999999999998" fill="#383838" filter="url(#bl2)"/>
<rect x="223.6" y="349.14889999994836" width="7.200000000000017" height="1.2" fill="#343434" filter="url(#bl3)"/>
<rect x="223.6" y="352.3532568654438" width="7.200000000000017" height="1.2" fill="#3c3c3c" filter="url(#bl3)"/>
<rect x="223.6" y="355.4689094466901" width="7.200000000000017" height="1.2" fill="#3b3b3b" filter="url(#bl3)"/>
<rect x="223.6" y="359.91870628669625" width="7.200000000000017" height="1.2" fill="#373737" filter="url(#bl3)"/>
<rect x="223.6" y="363.9005526232442" width="7.200000000000017" height="1.2" fill="#363636" filter="url(#bl3)"/>
<rect x="223.6" y="366.6307722439863" width="7.200000000000017" height="1.2" fill="#3e3e3e" filter="url(#bl3)"/>
<rect x="223.6" y="371.18186193209334" width="7.200000000000017" height="1.2" fill="#3c3c3c" filter="url(#bl3)"/>
<rect x="223.6" y="373.82210439582303" width="7.200000000000017" height="1.2" fill="#3a3a3a" filter="url(#bl3)"/>
<rect x="223.6" y="378.250393321969" width="7.200000000000017" height="1.2" fill="#313131" filter="url(#bl3)"/>
<rect x="223.4" y="349.98" width="7.600000000000017" height="2.04" fill="#505050" filter="url(#bl)"/>
<rect x="223.4" y="355.98" width="7.600000000000017" height="2.04" fill="#505050" filter="url(#bl)"/>
<rect x="223.4" y="365.652" width="7.600000000000017" height="1.4960000000000002" fill="#acacac" filter="url(#bl)"/>
<rect x="223.4" y="377.92" width="7.600000000000017" height="1.36" fill="#6f6f6f" filter="url(#bl)"/>
<rect x="234.9" y="348.0" width="10.0" height="32.39999999999998" fill="#383838" filter="url(#bl2)"/>
<rect x="236.4" y="349.6635458805254" width="7.0" height="1.2" fill="#3a3a3a" filter="url(#bl3)"/>
<rect x="236.4" y="354.3931976525973" width="7.0" height="1.2" fill="#343434" filter="url(#bl3)"/>
<rect x="236.4" y="358.75664990611244" width="7.0" height="1.2" fill="#323232" filter="url(#bl3)"/>
<rect x="236.4" y="361.2940575460873" width="7.0" height="1.2" fill="#303030" filter="url(#bl3)"/>
<rect x="236.4" y="365.2514516900734" width="7.0" height="1.2" fill="#3a3a3a" filter="url(#bl3)"/>
<rect x="236.4" y="368.0500089050827" width="7.0" height="1.2" fill="#333333" filter="url(#bl3)"/>
<rect x="236.4" y="372.577131875521" width="7.0" height="1.2" fill="#343434" filter="url(#bl3)"/>
<rect x="236.4" y="377.20374463974247" width="7.0" height="1.2" fill="#343434" filter="url(#bl3)"/>
<rect x="236.20000000000002" y="365.71999999999997" width="7.4" height="1.36" fill="#8d8d8d" filter="url(#bl)"/>
<rect x="236.20000000000002" y="377.92" width="7.4" height="1.36" fill="#6f6f6f" filter="url(#bl)"/>
<rect x="169.3" y="384.1" width="76.6" height="8.3" fill="#242424" />
<rect x="171.5" y="387.3" width="9.099999999999994" height="2.2" fill="#777" filter="url(#bl)"/>
<rect x="184.2" y="387.3" width="9.600000000000023" height="2.2" fill="#eeeeee" filter="url(#bl)"/>
<rect x="197" y="387.3" width="9.599999999999994" height="2.2" fill="#bbbbbb" filter="url(#bl)"/>
<rect x="209.8" y="387.3" width="9.199999999999989" height="2.2" fill="#3a3a3a" filter="url(#bl)"/>
<rect x="222.6" y="387.3" width="9.200000000000017" height="2.2" fill="#ffffff" filter="url(#bl)"/>
<rect x="235.4" y="387.3" width="9.0" height="2.2" fill="#666" filter="url(#bl)"/>
<rect x="288.4" y="285.0" width="43.5" height="26.100000000000023" fill="#e9e9e9" />
<rect x="288.4" y="285.0" width="43.5" height="72.39999999999998" fill="none" stroke="#c4c4c4" stroke-width="0.9"/>
<line x1="288.4" y1="285.0" x2="331.9" y2="285.0" stroke="#9a9a9a" stroke-width="0.9" />
<line x1="288.4" y1="357.4" x2="331.9" y2="357.4" stroke="#a8a8a8" stroke-width="0.9" />
<text x="286.6" y="286.8" font-size="7.8" text-anchor="end" font-weight="normal" fill="#222"  >15</text>
<text x="286.6" y="310.7" font-size="7.8" text-anchor="end" font-weight="normal" fill="#222"  >10</text>
<text x="286.2" y="337.6" font-size="7.8" text-anchor="end" font-weight="normal" fill="#222"  >5</text>
<text x="286.4" y="360.40000000000003" font-size="7.8" text-anchor="end" font-weight="normal" fill="#222"  >0</text>
<circle cx="300.4" cy="322.1" r="1.5" fill="#8c8c8c"/>
<circle cx="300.4" cy="348.8" r="1.5" fill="#8c8c8c"/>
<circle cx="300.4" cy="353.2" r="1.5" fill="#8c8c8c"/>
<line x1="296.0" y1="341.5" x2="305.4" y2="341.5" stroke="#333" stroke-width="0.9" />
<circle cx="300.7" cy="341.5" r="1.3" fill="#333"/>
<path d="M320.0,287.5 L321.5,284.0 L323.0,287.5 Z" fill="none" stroke="#333" stroke-width="0.65"/>
<text x="290.4" y="371.7" font-size="7.6" text-anchor="start" font-weight="normal" fill="#222"  >Ex Vivo</text>
<text x="320.4" y="371.7" font-size="7.6" text-anchor="start" font-weight="normal" fill="#222"  >CTL</text>
<text transform="translate(273.2,321.1) rotate(-90)" font-size="8.7" text-anchor="middle" fill="#1a1a1a">Red Cells (x10<tspan font-size="5.5" dy="-3">-9</tspan><tspan dy="3">/mL)</tspan></text>
<rect x="367.6" y="350.2" width="43.099999999999966" height="6.800000000000011" fill="#e9e9e9" />
<line x1="367.6" y1="349.8" x2="410.7" y2="349.8" stroke="#a5a5a5" stroke-width="0.8" />
<line x1="367.6" y1="357.0" x2="410.7" y2="357.0" stroke="#a5a5a5" stroke-width="0.8" />
<rect x="367.6" y="286.0" width="43.099999999999966" height="73.30000000000001" fill="none" stroke="#c4c4c4" stroke-width="0.9"/>
<line x1="367.6" y1="286.0" x2="410.7" y2="286.0" stroke="#9a9a9a" stroke-width="0.9" />
<line x1="367.6" y1="359.3" x2="410.7" y2="359.3" stroke="#a8a8a8" stroke-width="0.9" />
<text x="365.2" y="286.40000000000003" font-size="7.8" text-anchor="end" font-weight="normal" fill="#222"  >25</text>
<text x="364.9" y="359.40000000000003" font-size="7.8" text-anchor="end" font-weight="normal" fill="#222"  >0</text>
<circle cx="378.4" cy="300.0" r="1.5" fill="#8c8c8c"/>
<circle cx="378.6" cy="322.6" r="1.5" fill="#8c8c8c"/>
<circle cx="378.6" cy="334.2" r="1.5" fill="#8c8c8c"/>
<circle cx="378.6" cy="343.2" r="1.5" fill="#8c8c8c"/>
<line x1="374.4" y1="325.2" x2="383.8" y2="325.2" stroke="#333" stroke-width="0.9" />
<path d="M398.9,352.0 L400.4,348.5 L401.9,352.0 Z" fill="none" stroke="#333" stroke-width="0.65"/>
<text x="364.8" y="371.3" font-size="7.6" text-anchor="start" font-weight="normal" fill="#222"  >Ex Vivo</text>
<text x="394.8" y="371.3" font-size="7.6" text-anchor="start" font-weight="normal" fill="#222"  >CTL</text>
<text transform="translate(353.4,320.5) rotate(-90)" font-size="8.7" text-anchor="middle" fill="#1a1a1a">WBCs (x10<tspan font-size="5.5" dy="-3">-10</tspan><tspan dy="3">/L)</tspan></text>
<rect x="455.8" y="286.2" width="43.5" height="21.80000000000001" fill="#e9e9e9" />
<line x1="455.8" y1="308.0" x2="499.3" y2="308.0" stroke="#a5a5a5" stroke-width="0.8" />
<rect x="455.8" y="286.2" width="43.5" height="74.19999999999999" fill="none" stroke="#c4c4c4" stroke-width="0.9"/>
<line x1="455.8" y1="286.2" x2="499.3" y2="286.2" stroke="#9a9a9a" stroke-width="0.9" />
<line x1="455.8" y1="360.4" x2="499.3" y2="360.4" stroke="#a8a8a8" stroke-width="0.9" />
<text x="451.6" y="288.2" font-size="7.8" text-anchor="end" font-weight="normal" fill="#222"  >100</text>
<text x="451.4" y="323.2" font-size="7.8" text-anchor="end" font-weight="normal" fill="#222"  >50</text>
<text x="453.4" y="361.40000000000003" font-size="7.8" text-anchor="end" font-weight="normal" fill="#222"  >0</text>
<circle cx="466.1" cy="355.5" r="1.5" fill="#8c8c8c"/>
<circle cx="466.1" cy="358.1" r="1.5" fill="#8c8c8c"/>
<line x1="462.2" y1="357.2" x2="471.1" y2="357.2" stroke="#333" stroke-width="0.9" />
<path d="M487.1,298.1 L488.6,294.6 L490.1,298.1 Z" fill="none" stroke="#333" stroke-width="0.65"/>
<text x="455.5" y="372.6" font-size="7.6" text-anchor="start" font-weight="normal" fill="#222"  >Ex Vivo</text>
<text x="485.8" y="372.6" font-size="7.6" text-anchor="start" font-weight="normal" fill="#222"  >CTL</text>
<text transform="translate(435.9,318.2) rotate(-90)" font-size="8.7" text-anchor="middle" fill="#1a1a1a">Platelets (x10<tspan font-size="5.5" dy="-3">-10</tspan><tspan dy="3">/L)</tspan></text>
</svg>
</body></html>
